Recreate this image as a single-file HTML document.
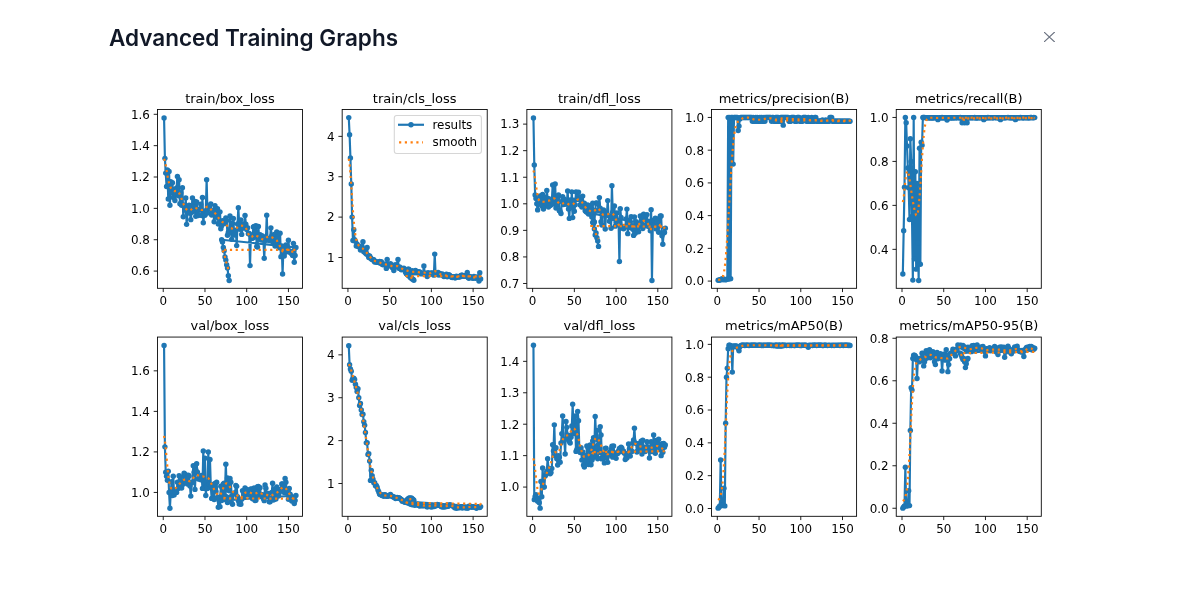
<!DOCTYPE html>
<html lang="en">
<head>
<meta charset="utf-8">
<title>Advanced Training Graphs</title>
<style>
html,body{margin:0;padding:0;background:#fff;}
body{width:1184px;height:606px;position:relative;overflow:hidden;font-family:Inter,"Liberation Sans",sans-serif;}
h2{position:absolute;left:109px;top:22.8px;margin:0;font-size:22.5px;line-height:30px;font-weight:600;color:#111827;letter-spacing:0;white-space:nowrap;}
.close{position:absolute;left:1044.2px;top:32px;width:10.7px;height:10px;overflow:hidden;}
.chart{position:absolute;left:0;top:0;}
.chart text{font-family:"DejaVu Sans","Liberation Sans",sans-serif;fill:#000;}
.ln{fill:none;stroke:#1f77b4;stroke-width:2.17;stroke-linejoin:round;stroke-linecap:square;}
.mk circle{fill:#1f77b4;}
.sm{fill:none;stroke:#ff7f0e;stroke-width:2.17;stroke-dasharray:2.17 3.58;stroke-linejoin:round;}
.fr{fill:none;stroke:#000;stroke-width:0.87;}
.tk{stroke:#000;stroke-width:0.87;}
.xl{font-size:11.92px;text-anchor:middle;}
.yl{font-size:11.92px;text-anchor:end;}
.tt{font-size:13px;text-anchor:middle;}
.lt{font-size:11.92px;}
.lgb{fill:#fff;fill-opacity:0.8;stroke:#ccc;stroke-opacity:0.8;stroke-width:1.08;}
</style>
</head>
<body>
<h2>Advanced Training Graphs</h2>
<svg class="close" viewBox="0 0 10.7 10" fill="none" stroke="#6b7280" stroke-width="1.15"><path d="M-1.07 -1L11.77 11M11.77 -1L-1.07 11"/></svg>
<svg class="chart" width="1184" height="606" viewBox="0 0 1184 606">
<defs>
<clipPath id="c0"><rect x="157.48" y="109.5" width="145.05" height="178.8"/></clipPath>
<clipPath id="c1"><rect x="342.17" y="109.5" width="145.05" height="178.8"/></clipPath>
<clipPath id="c2"><rect x="526.86" y="109.5" width="145.05" height="178.8"/></clipPath>
<clipPath id="c3"><rect x="711.55" y="109.5" width="145.05" height="178.8"/></clipPath>
<clipPath id="c4"><rect x="896.24" y="109.5" width="145.05" height="178.8"/></clipPath>
<clipPath id="c5"><rect x="157.48" y="337.06" width="145.05" height="179.24"/></clipPath>
<clipPath id="c6"><rect x="342.17" y="337.06" width="145.05" height="179.24"/></clipPath>
<clipPath id="c7"><rect x="526.86" y="337.06" width="145.05" height="179.24"/></clipPath>
<clipPath id="c8"><rect x="711.55" y="337.06" width="145.05" height="179.24"/></clipPath>
<clipPath id="c9"><rect x="896.24" y="337.06" width="145.05" height="179.24"/></clipPath>
</defs>
<g class="ax">
<g clip-path="url(#c0)">
<polyline class="ln" points="164.07,118.06 164.91,158.35 165.74,173.09 166.58,186.42 167.41,169.96 168.25,198.96 169.08,171.52 169.92,205.23 170.75,181.72 171.58,192.69 172.42,182.66 173.25,197.39 174.09,189.56 174.92,200.53 175.76,194.26 176.59,187.99 177.43,176.54 178.26,195.83 179.1,179.68 179.93,203.67 180.76,192.69 181.6,205.23 182.43,187.83 183.27,216.68 184.1,205.23 184.94,209.94 185.77,198.02 186.61,224.36 187.44,213.07 188.28,208.37 189.11,205.23 189.95,212.95 190.78,219.66 191.61,212.3 192.45,198.02 193.28,211.51 194.12,202.1 194.95,201.5 195.79,216.37 196.62,201.89 197.46,210.05 198.29,215.42 199.13,210.16 199.96,209.01 200.79,204.19 201.63,215.43 202.46,197.55 203.3,222.79 204.13,214.64 204.97,215.18 205.8,210.72 206.64,179.68 207.47,213.07 208.31,206.08 209.14,207.27 209.98,209.15 210.81,204 211.64,215.08 212.48,212.44 213.31,210.69 214.15,221.82 214.98,205.7 215.82,208.37 216.65,217.35 217.49,208.62 218.32,224.02 219.16,223.43 219.99,211.86 220.82,228.75 221.66,225.73 222.49,220.68 223.33,221.78 224.16,221.47 225,223.43 225.83,217.87 226.67,220.49 227.5,235.18 228.34,232.25 229.17,232.63 230,215.9 230.84,228.75 231.67,239.36 232.51,223.37 233.34,218.4 234.18,235.14 235.01,232.2 235.85,230.31 236.68,245.61 237.52,224.05 238.35,207.74 239.19,224.05 240.02,229.19 240.85,219.87 241.69,234.39 242.52,228.27 243.36,227.39 244.19,224.08 245.03,215.43 245.86,224.15 246.7,229.45 247.53,227.72 248.37,233.79 249.2,233.46 250.03,265.6 250.87,235.02 251.7,238.26 252.54,238.35 253.37,226.94 254.21,226.49 255.04,236.94 255.88,225.59 256.71,246.47 257.55,247.1 258.38,226.4 259.22,239.33 260.05,234.69 260.88,235.7 261.72,240.1 262.55,235.86 263.39,239.79 264.22,258.23 265.06,240.55 265.89,239.94 266.73,215.27 267.56,239.73 268.4,238.55 269.23,240.51 270.06,238.9 270.9,227.87 271.73,236.12 272.57,241.63 273.4,237.97 274.24,234.34 275.07,245.98 275.91,242.38 276.74,232.02 277.58,237.3 278.41,243.93 279.25,247.73 280.08,233.14 280.91,256.64 281.75,246 282.58,274.06 283.42,247.57 284.25,256.12 285.09,252.59 285.92,245 286.76,246.73 287.59,251.47 288.43,240.2 289.26,250.7 290.09,252.58 290.93,251.68 291.76,253.81 292.6,255.6 293.43,243.35 294.27,262.3 295.1,255.41 295.94,247.41 221.66,239.73 222.49,242.08 223.33,247.57 224.16,250.7 225,256.97 225.83,260.11 226.67,264.81 227.5,267.95 228.34,275.79 229.17,280.49"/>
<g class="mk"><circle cx="164.07" cy="118.06" r="2.71"/><circle cx="164.91" cy="158.35" r="2.71"/><circle cx="165.74" cy="173.09" r="2.71"/><circle cx="166.58" cy="186.42" r="2.71"/><circle cx="167.41" cy="169.96" r="2.71"/><circle cx="168.25" cy="198.96" r="2.71"/><circle cx="169.08" cy="171.52" r="2.71"/><circle cx="169.92" cy="205.23" r="2.71"/><circle cx="170.75" cy="181.72" r="2.71"/><circle cx="171.58" cy="192.69" r="2.71"/><circle cx="172.42" cy="182.66" r="2.71"/><circle cx="173.25" cy="197.39" r="2.71"/><circle cx="174.09" cy="189.56" r="2.71"/><circle cx="174.92" cy="200.53" r="2.71"/><circle cx="175.76" cy="194.26" r="2.71"/><circle cx="176.59" cy="187.99" r="2.71"/><circle cx="177.43" cy="176.54" r="2.71"/><circle cx="178.26" cy="195.83" r="2.71"/><circle cx="179.1" cy="179.68" r="2.71"/><circle cx="179.93" cy="203.67" r="2.71"/><circle cx="180.76" cy="192.69" r="2.71"/><circle cx="181.6" cy="205.23" r="2.71"/><circle cx="182.43" cy="187.83" r="2.71"/><circle cx="183.27" cy="216.68" r="2.71"/><circle cx="184.1" cy="205.23" r="2.71"/><circle cx="184.94" cy="209.94" r="2.71"/><circle cx="185.77" cy="198.02" r="2.71"/><circle cx="186.61" cy="224.36" r="2.71"/><circle cx="187.44" cy="213.07" r="2.71"/><circle cx="188.28" cy="208.37" r="2.71"/><circle cx="189.11" cy="205.23" r="2.71"/><circle cx="189.95" cy="212.95" r="2.71"/><circle cx="190.78" cy="219.66" r="2.71"/><circle cx="191.61" cy="212.3" r="2.71"/><circle cx="192.45" cy="198.02" r="2.71"/><circle cx="193.28" cy="211.51" r="2.71"/><circle cx="194.12" cy="202.1" r="2.71"/><circle cx="194.95" cy="201.5" r="2.71"/><circle cx="195.79" cy="216.37" r="2.71"/><circle cx="196.62" cy="201.89" r="2.71"/><circle cx="197.46" cy="210.05" r="2.71"/><circle cx="198.29" cy="215.42" r="2.71"/><circle cx="199.13" cy="210.16" r="2.71"/><circle cx="199.96" cy="209.01" r="2.71"/><circle cx="200.79" cy="204.19" r="2.71"/><circle cx="201.63" cy="215.43" r="2.71"/><circle cx="202.46" cy="197.55" r="2.71"/><circle cx="203.3" cy="222.79" r="2.71"/><circle cx="204.13" cy="214.64" r="2.71"/><circle cx="204.97" cy="215.18" r="2.71"/><circle cx="205.8" cy="210.72" r="2.71"/><circle cx="206.64" cy="179.68" r="2.71"/><circle cx="207.47" cy="213.07" r="2.71"/><circle cx="208.31" cy="206.08" r="2.71"/><circle cx="209.14" cy="207.27" r="2.71"/><circle cx="209.98" cy="209.15" r="2.71"/><circle cx="210.81" cy="204" r="2.71"/><circle cx="211.64" cy="215.08" r="2.71"/><circle cx="212.48" cy="212.44" r="2.71"/><circle cx="213.31" cy="210.69" r="2.71"/><circle cx="214.15" cy="221.82" r="2.71"/><circle cx="214.98" cy="205.7" r="2.71"/><circle cx="215.82" cy="208.37" r="2.71"/><circle cx="216.65" cy="217.35" r="2.71"/><circle cx="217.49" cy="208.62" r="2.71"/><circle cx="218.32" cy="224.02" r="2.71"/><circle cx="219.16" cy="223.43" r="2.71"/><circle cx="219.99" cy="211.86" r="2.71"/><circle cx="220.82" cy="228.75" r="2.71"/><circle cx="221.66" cy="225.73" r="2.71"/><circle cx="222.49" cy="220.68" r="2.71"/><circle cx="223.33" cy="221.78" r="2.71"/><circle cx="224.16" cy="221.47" r="2.71"/><circle cx="225" cy="223.43" r="2.71"/><circle cx="225.83" cy="217.87" r="2.71"/><circle cx="226.67" cy="220.49" r="2.71"/><circle cx="227.5" cy="235.18" r="2.71"/><circle cx="228.34" cy="232.25" r="2.71"/><circle cx="229.17" cy="232.63" r="2.71"/><circle cx="230" cy="215.9" r="2.71"/><circle cx="230.84" cy="228.75" r="2.71"/><circle cx="231.67" cy="239.36" r="2.71"/><circle cx="232.51" cy="223.37" r="2.71"/><circle cx="233.34" cy="218.4" r="2.71"/><circle cx="234.18" cy="235.14" r="2.71"/><circle cx="235.01" cy="232.2" r="2.71"/><circle cx="235.85" cy="230.31" r="2.71"/><circle cx="236.68" cy="245.61" r="2.71"/><circle cx="237.52" cy="224.05" r="2.71"/><circle cx="238.35" cy="207.74" r="2.71"/><circle cx="239.19" cy="224.05" r="2.71"/><circle cx="240.02" cy="229.19" r="2.71"/><circle cx="240.85" cy="219.87" r="2.71"/><circle cx="241.69" cy="234.39" r="2.71"/><circle cx="242.52" cy="228.27" r="2.71"/><circle cx="243.36" cy="227.39" r="2.71"/><circle cx="244.19" cy="224.08" r="2.71"/><circle cx="245.03" cy="215.43" r="2.71"/><circle cx="245.86" cy="224.15" r="2.71"/><circle cx="246.7" cy="229.45" r="2.71"/><circle cx="247.53" cy="227.72" r="2.71"/><circle cx="248.37" cy="233.79" r="2.71"/><circle cx="249.2" cy="233.46" r="2.71"/><circle cx="250.03" cy="265.6" r="2.71"/><circle cx="250.87" cy="235.02" r="2.71"/><circle cx="251.7" cy="238.26" r="2.71"/><circle cx="252.54" cy="238.35" r="2.71"/><circle cx="253.37" cy="226.94" r="2.71"/><circle cx="254.21" cy="226.49" r="2.71"/><circle cx="255.04" cy="236.94" r="2.71"/><circle cx="255.88" cy="225.59" r="2.71"/><circle cx="256.71" cy="246.47" r="2.71"/><circle cx="257.55" cy="247.1" r="2.71"/><circle cx="258.38" cy="226.4" r="2.71"/><circle cx="259.22" cy="239.33" r="2.71"/><circle cx="260.05" cy="234.69" r="2.71"/><circle cx="260.88" cy="235.7" r="2.71"/><circle cx="261.72" cy="240.1" r="2.71"/><circle cx="262.55" cy="235.86" r="2.71"/><circle cx="263.39" cy="239.79" r="2.71"/><circle cx="264.22" cy="258.23" r="2.71"/><circle cx="265.06" cy="240.55" r="2.71"/><circle cx="265.89" cy="239.94" r="2.71"/><circle cx="266.73" cy="215.27" r="2.71"/><circle cx="267.56" cy="239.73" r="2.71"/><circle cx="268.4" cy="238.55" r="2.71"/><circle cx="269.23" cy="240.51" r="2.71"/><circle cx="270.06" cy="238.9" r="2.71"/><circle cx="270.9" cy="227.87" r="2.71"/><circle cx="271.73" cy="236.12" r="2.71"/><circle cx="272.57" cy="241.63" r="2.71"/><circle cx="273.4" cy="237.97" r="2.71"/><circle cx="274.24" cy="234.34" r="2.71"/><circle cx="275.07" cy="245.98" r="2.71"/><circle cx="275.91" cy="242.38" r="2.71"/><circle cx="276.74" cy="232.02" r="2.71"/><circle cx="277.58" cy="237.3" r="2.71"/><circle cx="278.41" cy="243.93" r="2.71"/><circle cx="279.25" cy="247.73" r="2.71"/><circle cx="280.08" cy="233.14" r="2.71"/><circle cx="280.91" cy="256.64" r="2.71"/><circle cx="281.75" cy="246" r="2.71"/><circle cx="282.58" cy="274.06" r="2.71"/><circle cx="283.42" cy="247.57" r="2.71"/><circle cx="284.25" cy="256.12" r="2.71"/><circle cx="285.09" cy="252.59" r="2.71"/><circle cx="285.92" cy="245" r="2.71"/><circle cx="286.76" cy="246.73" r="2.71"/><circle cx="287.59" cy="251.47" r="2.71"/><circle cx="288.43" cy="240.2" r="2.71"/><circle cx="289.26" cy="250.7" r="2.71"/><circle cx="290.09" cy="252.58" r="2.71"/><circle cx="290.93" cy="251.68" r="2.71"/><circle cx="291.76" cy="253.81" r="2.71"/><circle cx="292.6" cy="255.6" r="2.71"/><circle cx="293.43" cy="243.35" r="2.71"/><circle cx="294.27" cy="262.3" r="2.71"/><circle cx="295.1" cy="255.41" r="2.71"/><circle cx="295.94" cy="247.41" r="2.71"/><circle cx="221.66" cy="239.73" r="2.71"/><circle cx="222.49" cy="242.08" r="2.71"/><circle cx="223.33" cy="247.57" r="2.71"/><circle cx="224.16" cy="250.7" r="2.71"/><circle cx="225" cy="256.97" r="2.71"/><circle cx="225.83" cy="260.11" r="2.71"/><circle cx="226.67" cy="264.81" r="2.71"/><circle cx="227.5" cy="267.95" r="2.71"/><circle cx="228.34" cy="275.79" r="2.71"/><circle cx="229.17" cy="280.49" r="2.71"/></g>
<polyline class="sm" points="164.07,158.74 164.91,161.11 165.74,165.28 166.58,170.36 167.41,175.43 168.25,179.87 169.08,183.39 169.92,186 170.75,187.87 171.58,189.2 172.42,190.13 173.25,190.75 174.09,191.05 174.92,191.08 175.76,190.94 176.59,190.85 177.43,191.04 178.26,191.7 179.1,192.92 179.93,194.64 180.76,196.72 181.6,198.99 182.43,201.27 183.27,203.45 184.1,205.43 184.94,207.14 185.77,208.52 186.61,209.56 187.44,210.25 188.28,210.6 189.11,210.64 189.95,210.39 190.78,209.9 191.61,209.25 192.45,208.57 193.28,208.02 194.12,207.72 194.95,207.72 195.79,207.98 196.62,208.39 197.46,208.83 198.29,209.2 199.13,209.48 199.96,209.69 200.79,209.87 201.63,210 202.46,210.02 203.3,209.8 204.13,209.28 204.97,208.5 205.8,207.64 206.64,206.95 207.47,206.64 208.31,206.81 209.14,207.39 209.98,208.26 210.81,209.25 211.64,210.23 212.48,211.1 213.31,211.83 214.15,212.49 214.98,213.16 215.82,213.97 216.65,214.99 217.49,216.21 218.32,217.54 219.16,218.86 219.99,220.02 220.82,220.95 221.66,221.63 222.49,222.1 223.33,222.49 224.16,222.94 225,223.55 225.83,224.34 226.67,225.26 227.5,226.16 228.34,226.93 229.17,227.49 230,227.87 230.84,228.14 231.67,228.38 232.51,228.66 233.34,228.96 234.18,229.16 235.01,229.13 235.85,228.77 236.68,228.08 237.52,227.21 238.35,226.4 239.19,225.84 240.02,225.59 240.85,225.58 241.69,225.67 242.52,225.74 243.36,225.82 244.19,226.08 245.03,226.72 245.86,227.91 246.7,229.64 247.53,231.77 248.37,233.94 249.2,235.76 250.03,236.91 250.87,237.27 251.7,236.93 252.54,236.21 253.37,235.48 254.21,235.04 255.04,235.01 255.88,235.33 256.71,235.82 257.55,236.32 258.38,236.76 259.22,237.17 260.05,237.63 260.88,238.18 261.72,238.8 262.55,239.32 263.39,239.56 264.22,239.4 265.06,238.87 265.89,238.1 266.73,237.34 267.56,236.77 268.4,236.47 269.23,236.41 270.06,236.54 270.9,236.8 271.73,237.17 272.57,237.62 273.4,238.12 274.24,238.63 275.07,239.16 275.91,239.75 276.74,240.53 277.58,241.58 278.41,242.99 279.25,244.74 280.08,246.7 280.91,248.64 281.75,250.29 282.58,251.41 283.42,251.87 284.25,251.71 285.09,251.13 285.92,250.4 286.76,249.79 287.59,249.47 288.43,249.52 289.26,249.88 290.09,250.42 290.93,250.99 291.76,251.42 292.6,251.6 293.43,251.45 294.27,251.02 295.1,250.44 295.94,249.96 221.66,249.89 222.49,250.51 223.33,251.98 224.16,254.28 225,257.25 225.83,260.6 226.67,263.96 227.5,266.95 228.34,269.2 229.17,270.42"/>
</g>
<rect class="fr" x="157.48" y="109.5" width="145.05" height="178.8"/>
<line class="tk" x1="163.24" y1="288.3" x2="163.24" y2="292.09"/>
<text class="xl" x="163.24" y="304.65">0</text>
<line class="tk" x1="204.97" y1="288.3" x2="204.97" y2="292.09"/>
<text class="xl" x="204.97" y="304.65">50</text>
<line class="tk" x1="246.7" y1="288.3" x2="246.7" y2="292.09"/>
<text class="xl" x="246.7" y="304.65">100</text>
<line class="tk" x1="288.43" y1="288.3" x2="288.43" y2="292.09"/>
<text class="xl" x="288.43" y="304.65">150</text>
<line class="tk" x1="153.69" y1="271.08" x2="157.48" y2="271.08"/>
<text class="yl" x="149.89" y="275.44">0.6</text>
<line class="tk" x1="153.69" y1="239.73" x2="157.48" y2="239.73"/>
<text class="yl" x="149.89" y="244.08">0.8</text>
<line class="tk" x1="153.69" y1="208.37" x2="157.48" y2="208.37"/>
<text class="yl" x="149.89" y="212.72">1.0</text>
<line class="tk" x1="153.69" y1="177.01" x2="157.48" y2="177.01"/>
<text class="yl" x="149.89" y="181.36">1.2</text>
<line class="tk" x1="153.69" y1="145.66" x2="157.48" y2="145.66"/>
<text class="yl" x="149.89" y="150.01">1.4</text>
<line class="tk" x1="153.69" y1="114.3" x2="157.48" y2="114.3"/>
<text class="yl" x="149.89" y="118.65">1.6</text>
<text class="tt" x="230" y="102.8">train/box_loss</text>
</g>
<g class="ax">
<g clip-path="url(#c1)">
<polyline class="ln" points="348.76,117.62 349.6,134.75 350.43,158 351.27,184.01 352.1,217.12 352.94,240.54 353.77,229.64 354.61,239.73 355.44,241.35 356.27,245.99 357.11,244.17 357.94,246.01 358.78,246.79 359.61,246.18 360.45,250.03 361.28,248.81 362.12,247.1 362.95,241.75 363.79,251.79 364.62,250.13 365.45,253.04 366.29,253.84 367.12,247.4 367.96,255.32 368.79,257.5 369.63,256.01 370.46,257.83 371.3,259.02 372.13,259.26 372.97,260.07 373.8,259.66 374.64,262.06 375.47,261.58 376.3,261.98 377.14,262.2 377.97,262.12 378.81,262.46 379.64,261.37 380.48,263.37 381.31,261.66 382.15,264.2 382.98,264.7 383.82,264.28 384.65,264.25 385.48,264.64 386.32,268.4 387.15,259.52 387.99,264.64 388.82,265.74 389.66,265.54 390.49,263.8 391.33,265.37 392.16,267.43 393,266.89 393.83,270.42 394.67,265.07 395.5,266.81 396.33,264.82 397.17,266.36 398,259.52 398.84,268.33 399.67,266.97 400.51,268.74 401.34,269.75 402.18,268.43 403.01,269.37 403.85,268.3 404.68,270.04 405.51,272.18 406.35,269.64 407.18,272.73 408.02,269.23 408.85,269.18 409.69,271.65 410.52,272.57 411.36,272.93 412.19,270.6 413.03,271.87 413.86,272.45 414.69,272.28 415.53,270.47 416.36,272.09 417.2,271.9 418.03,272.08 418.87,272.06 419.7,271.99 420.54,273.72 421.37,273.19 422.21,273.68 423.04,273.59 423.88,265.98 424.71,273.38 425.54,273.12 426.38,273.84 427.21,276.48 428.05,272.76 428.88,274.03 429.72,274.21 430.55,273.31 431.39,273.29 432.22,273.01 433.06,273.54 433.89,275.14 434.72,254.11 435.56,273.3 436.39,272.93 437.23,274.56 438.06,272.52 438.9,274.99 439.73,273.47 440.57,274.22 441.4,274.86 442.24,274.02 443.07,275.11 443.91,276.45 444.74,276.23 445.57,275.14 446.41,274.25 447.24,276.86 448.08,275.79 448.91,274.71 449.75,275.47 450.58,276.33 451.42,277.24 452.25,277.54 453.09,276.88 453.92,276.68 454.75,277.8 455.59,277.79 456.42,276.24 457.26,276.79 458.09,277.06 458.93,276.79 459.76,277.1 460.6,275.77 461.43,275.22 462.27,275.24 463.1,276.06 463.94,276.09 464.77,275.62 465.6,275.5 466.44,275.74 467.27,272.44 468.11,277.45 468.94,278.23 469.78,276.44 470.61,277.23 471.45,277.26 472.28,277.94 473.12,278.31 473.95,276.37 474.78,277.09 475.62,278.25 476.45,277.21 477.29,277.31 478.12,277.18 478.96,280.92 479.79,272.68 480.63,278.9 406.35,273.65 407.18,274.46 408.02,275.27 408.85,275.87 409.69,276.48 410.52,277.69 411.36,277.69 412.19,278.9 413.03,279.3 413.86,280.27"/>
<g class="mk"><circle cx="348.76" cy="117.62" r="2.71"/><circle cx="349.6" cy="134.75" r="2.71"/><circle cx="350.43" cy="158" r="2.71"/><circle cx="351.27" cy="184.01" r="2.71"/><circle cx="352.1" cy="217.12" r="2.71"/><circle cx="352.94" cy="240.54" r="2.71"/><circle cx="353.77" cy="229.64" r="2.71"/><circle cx="354.61" cy="239.73" r="2.71"/><circle cx="355.44" cy="241.35" r="2.71"/><circle cx="356.27" cy="245.99" r="2.71"/><circle cx="357.11" cy="244.17" r="2.71"/><circle cx="357.94" cy="246.01" r="2.71"/><circle cx="358.78" cy="246.79" r="2.71"/><circle cx="359.61" cy="246.18" r="2.71"/><circle cx="360.45" cy="250.03" r="2.71"/><circle cx="361.28" cy="248.81" r="2.71"/><circle cx="362.12" cy="247.1" r="2.71"/><circle cx="362.95" cy="241.75" r="2.71"/><circle cx="363.79" cy="251.79" r="2.71"/><circle cx="364.62" cy="250.13" r="2.71"/><circle cx="365.45" cy="253.04" r="2.71"/><circle cx="366.29" cy="253.84" r="2.71"/><circle cx="367.12" cy="247.4" r="2.71"/><circle cx="367.96" cy="255.32" r="2.71"/><circle cx="368.79" cy="257.5" r="2.71"/><circle cx="369.63" cy="256.01" r="2.71"/><circle cx="370.46" cy="257.83" r="2.71"/><circle cx="371.3" cy="259.02" r="2.71"/><circle cx="372.13" cy="259.26" r="2.71"/><circle cx="372.97" cy="260.07" r="2.71"/><circle cx="373.8" cy="259.66" r="2.71"/><circle cx="374.64" cy="262.06" r="2.71"/><circle cx="375.47" cy="261.58" r="2.71"/><circle cx="376.3" cy="261.98" r="2.71"/><circle cx="377.14" cy="262.2" r="2.71"/><circle cx="377.97" cy="262.12" r="2.71"/><circle cx="378.81" cy="262.46" r="2.71"/><circle cx="379.64" cy="261.37" r="2.71"/><circle cx="380.48" cy="263.37" r="2.71"/><circle cx="381.31" cy="261.66" r="2.71"/><circle cx="382.15" cy="264.2" r="2.71"/><circle cx="382.98" cy="264.7" r="2.71"/><circle cx="383.82" cy="264.28" r="2.71"/><circle cx="384.65" cy="264.25" r="2.71"/><circle cx="385.48" cy="264.64" r="2.71"/><circle cx="386.32" cy="268.4" r="2.71"/><circle cx="387.15" cy="259.52" r="2.71"/><circle cx="387.99" cy="264.64" r="2.71"/><circle cx="388.82" cy="265.74" r="2.71"/><circle cx="389.66" cy="265.54" r="2.71"/><circle cx="390.49" cy="263.8" r="2.71"/><circle cx="391.33" cy="265.37" r="2.71"/><circle cx="392.16" cy="267.43" r="2.71"/><circle cx="393" cy="266.89" r="2.71"/><circle cx="393.83" cy="270.42" r="2.71"/><circle cx="394.67" cy="265.07" r="2.71"/><circle cx="395.5" cy="266.81" r="2.71"/><circle cx="396.33" cy="264.82" r="2.71"/><circle cx="397.17" cy="266.36" r="2.71"/><circle cx="398" cy="259.52" r="2.71"/><circle cx="398.84" cy="268.33" r="2.71"/><circle cx="399.67" cy="266.97" r="2.71"/><circle cx="400.51" cy="268.74" r="2.71"/><circle cx="401.34" cy="269.75" r="2.71"/><circle cx="402.18" cy="268.43" r="2.71"/><circle cx="403.01" cy="269.37" r="2.71"/><circle cx="403.85" cy="268.3" r="2.71"/><circle cx="404.68" cy="270.04" r="2.71"/><circle cx="405.51" cy="272.18" r="2.71"/><circle cx="406.35" cy="269.64" r="2.71"/><circle cx="407.18" cy="272.73" r="2.71"/><circle cx="408.02" cy="269.23" r="2.71"/><circle cx="408.85" cy="269.18" r="2.71"/><circle cx="409.69" cy="271.65" r="2.71"/><circle cx="410.52" cy="272.57" r="2.71"/><circle cx="411.36" cy="272.93" r="2.71"/><circle cx="412.19" cy="270.6" r="2.71"/><circle cx="413.03" cy="271.87" r="2.71"/><circle cx="413.86" cy="272.45" r="2.71"/><circle cx="414.69" cy="272.28" r="2.71"/><circle cx="415.53" cy="270.47" r="2.71"/><circle cx="416.36" cy="272.09" r="2.71"/><circle cx="417.2" cy="271.9" r="2.71"/><circle cx="418.03" cy="272.08" r="2.71"/><circle cx="418.87" cy="272.06" r="2.71"/><circle cx="419.7" cy="271.99" r="2.71"/><circle cx="420.54" cy="273.72" r="2.71"/><circle cx="421.37" cy="273.19" r="2.71"/><circle cx="422.21" cy="273.68" r="2.71"/><circle cx="423.04" cy="273.59" r="2.71"/><circle cx="423.88" cy="265.98" r="2.71"/><circle cx="424.71" cy="273.38" r="2.71"/><circle cx="425.54" cy="273.12" r="2.71"/><circle cx="426.38" cy="273.84" r="2.71"/><circle cx="427.21" cy="276.48" r="2.71"/><circle cx="428.05" cy="272.76" r="2.71"/><circle cx="428.88" cy="274.03" r="2.71"/><circle cx="429.72" cy="274.21" r="2.71"/><circle cx="430.55" cy="273.31" r="2.71"/><circle cx="431.39" cy="273.29" r="2.71"/><circle cx="432.22" cy="273.01" r="2.71"/><circle cx="433.06" cy="273.54" r="2.71"/><circle cx="433.89" cy="275.14" r="2.71"/><circle cx="434.72" cy="254.11" r="2.71"/><circle cx="435.56" cy="273.3" r="2.71"/><circle cx="436.39" cy="272.93" r="2.71"/><circle cx="437.23" cy="274.56" r="2.71"/><circle cx="438.06" cy="272.52" r="2.71"/><circle cx="438.9" cy="274.99" r="2.71"/><circle cx="439.73" cy="273.47" r="2.71"/><circle cx="440.57" cy="274.22" r="2.71"/><circle cx="441.4" cy="274.86" r="2.71"/><circle cx="442.24" cy="274.02" r="2.71"/><circle cx="443.07" cy="275.11" r="2.71"/><circle cx="443.91" cy="276.45" r="2.71"/><circle cx="444.74" cy="276.23" r="2.71"/><circle cx="445.57" cy="275.14" r="2.71"/><circle cx="446.41" cy="274.25" r="2.71"/><circle cx="447.24" cy="276.86" r="2.71"/><circle cx="448.08" cy="275.79" r="2.71"/><circle cx="448.91" cy="274.71" r="2.71"/><circle cx="449.75" cy="275.47" r="2.71"/><circle cx="450.58" cy="276.33" r="2.71"/><circle cx="451.42" cy="277.24" r="2.71"/><circle cx="452.25" cy="277.54" r="2.71"/><circle cx="453.09" cy="276.88" r="2.71"/><circle cx="453.92" cy="276.68" r="2.71"/><circle cx="454.75" cy="277.8" r="2.71"/><circle cx="455.59" cy="277.79" r="2.71"/><circle cx="456.42" cy="276.24" r="2.71"/><circle cx="457.26" cy="276.79" r="2.71"/><circle cx="458.09" cy="277.06" r="2.71"/><circle cx="458.93" cy="276.79" r="2.71"/><circle cx="459.76" cy="277.1" r="2.71"/><circle cx="460.6" cy="275.77" r="2.71"/><circle cx="461.43" cy="275.22" r="2.71"/><circle cx="462.27" cy="275.24" r="2.71"/><circle cx="463.1" cy="276.06" r="2.71"/><circle cx="463.94" cy="276.09" r="2.71"/><circle cx="464.77" cy="275.62" r="2.71"/><circle cx="465.6" cy="275.5" r="2.71"/><circle cx="466.44" cy="275.74" r="2.71"/><circle cx="467.27" cy="272.44" r="2.71"/><circle cx="468.11" cy="277.45" r="2.71"/><circle cx="468.94" cy="278.23" r="2.71"/><circle cx="469.78" cy="276.44" r="2.71"/><circle cx="470.61" cy="277.23" r="2.71"/><circle cx="471.45" cy="277.26" r="2.71"/><circle cx="472.28" cy="277.94" r="2.71"/><circle cx="473.12" cy="278.31" r="2.71"/><circle cx="473.95" cy="276.37" r="2.71"/><circle cx="474.78" cy="277.09" r="2.71"/><circle cx="475.62" cy="278.25" r="2.71"/><circle cx="476.45" cy="277.21" r="2.71"/><circle cx="477.29" cy="277.31" r="2.71"/><circle cx="478.12" cy="277.18" r="2.71"/><circle cx="478.96" cy="280.92" r="2.71"/><circle cx="479.79" cy="272.68" r="2.71"/><circle cx="480.63" cy="278.9" r="2.71"/><circle cx="406.35" cy="273.65" r="2.71"/><circle cx="407.18" cy="274.46" r="2.71"/><circle cx="408.02" cy="275.27" r="2.71"/><circle cx="408.85" cy="275.87" r="2.71"/><circle cx="409.69" cy="276.48" r="2.71"/><circle cx="410.52" cy="277.69" r="2.71"/><circle cx="411.36" cy="277.69" r="2.71"/><circle cx="412.19" cy="278.9" r="2.71"/><circle cx="413.03" cy="279.3" r="2.71"/><circle cx="413.86" cy="280.27" r="2.71"/></g>
<polyline class="sm" points="348.76,158.72 349.6,163.91 350.43,173.35 351.27,185.48 352.1,198.47 352.94,210.73 353.77,221.19 354.61,229.4 355.44,235.42 356.27,239.62 357.11,242.46 357.94,244.35 358.78,245.62 359.61,246.48 360.45,247.11 361.28,247.63 362.12,248.15 362.95,248.75 363.79,249.46 364.62,250.29 365.45,251.21 366.29,252.2 367.12,253.22 367.96,254.27 368.79,255.32 369.63,256.34 370.46,257.3 371.3,258.18 372.13,258.96 372.97,259.66 373.8,260.26 374.64,260.77 375.47,261.2 376.3,261.55 377.14,261.84 377.97,262.09 378.81,262.33 379.64,262.58 380.48,262.86 381.31,263.17 382.15,263.49 382.98,263.8 383.82,264.06 384.65,264.26 385.48,264.4 386.32,264.5 387.15,264.6 387.99,264.74 388.82,264.94 389.66,265.22 390.49,265.54 391.33,265.87 392.16,266.15 393,266.33 393.83,266.37 394.67,266.3 395.5,266.17 396.33,266.06 397.17,266.07 398,266.25 398.84,266.61 399.67,267.1 400.51,267.65 401.34,268.2 402.18,268.7 403.01,269.15 403.85,269.54 404.68,269.88 405.51,270.17 406.35,270.41 407.18,270.62 408.02,270.82 408.85,271.01 409.69,271.21 410.52,271.4 411.36,271.56 412.19,271.68 413.03,271.75 413.86,271.8 414.69,271.83 415.53,271.87 416.36,271.94 417.2,272.03 418.03,272.15 418.87,272.28 419.7,272.38 420.54,272.44 421.37,272.46 422.21,272.45 423.04,272.46 423.88,272.54 424.71,272.72 425.54,272.97 426.38,273.23 427.21,273.45 428.05,273.57 428.88,273.55 429.72,273.38 430.55,273.06 431.39,272.62 432.22,272.1 433.06,271.6 433.89,271.23 434.72,271.1 435.56,271.26 436.39,271.66 437.23,272.22 438.06,272.82 438.9,273.37 439.73,273.83 440.57,274.21 441.4,274.52 442.24,274.79 443.07,275.02 443.91,275.21 444.74,275.36 445.57,275.47 446.41,275.56 447.24,275.65 448.08,275.77 448.91,275.92 449.75,276.11 450.58,276.33 451.42,276.54 452.25,276.74 453.09,276.88 453.92,276.98 454.75,277.01 455.59,277 456.42,276.93 457.26,276.83 458.09,276.7 458.93,276.53 459.76,276.36 460.6,276.18 461.43,276.02 462.27,275.88 463.1,275.78 463.94,275.71 464.77,275.69 465.6,275.73 466.44,275.84 467.27,276.02 468.11,276.26 468.94,276.54 469.78,276.8 470.61,277.03 471.45,277.2 472.28,277.31 473.12,277.38 473.95,277.42 474.78,277.43 475.62,277.42 476.45,277.36 477.29,277.26 478.12,277.08 478.96,276.84 479.79,276.57 480.63,276.31 406.35,276.13 407.18,276.08 408.02,276.19 408.85,276.47 409.69,276.87 410.52,277.35 411.36,277.84 412.19,278.28 413.03,278.61 413.86,278.79"/>
</g>
<rect class="fr" x="342.17" y="109.5" width="145.05" height="178.8"/>
<line class="tk" x1="347.93" y1="288.3" x2="347.93" y2="292.09"/>
<text class="xl" x="347.93" y="304.65">0</text>
<line class="tk" x1="389.66" y1="288.3" x2="389.66" y2="292.09"/>
<text class="xl" x="389.66" y="304.65">50</text>
<line class="tk" x1="431.39" y1="288.3" x2="431.39" y2="292.09"/>
<text class="xl" x="431.39" y="304.65">100</text>
<line class="tk" x1="473.12" y1="288.3" x2="473.12" y2="292.09"/>
<text class="xl" x="473.12" y="304.65">150</text>
<line class="tk" x1="338.38" y1="257.5" x2="342.17" y2="257.5"/>
<text class="yl" x="334.58" y="261.85">1</text>
<line class="tk" x1="338.38" y1="217.12" x2="342.17" y2="217.12"/>
<text class="yl" x="334.58" y="221.47">2</text>
<line class="tk" x1="338.38" y1="176.74" x2="342.17" y2="176.74"/>
<text class="yl" x="334.58" y="181.09">3</text>
<line class="tk" x1="338.38" y1="136.36" x2="342.17" y2="136.36"/>
<text class="yl" x="334.58" y="140.71">4</text>
<text class="tt" x="414.69" y="102.8">train/cls_loss</text>
</g>
<g class="ax">
<g clip-path="url(#c2)">
<polyline class="ln" points="533.45,118 534.29,165.02 535.12,195.03 535.96,198.49 536.79,203.8 537.63,209.91 538.46,203.37 539.3,203.84 540.13,195.88 540.96,202.55 541.8,206.06 542.63,194.44 543.47,209.11 544.3,205.92 545.14,197.36 545.97,203.53 546.81,190.52 547.64,198.44 548.48,206.97 549.31,198.97 550.14,205.38 550.98,204.78 551.81,201.51 552.65,185.02 553.48,203.8 554.32,197.85 555.15,184.06 555.99,208.05 556.82,204.07 557.66,198 558.49,194.88 559.33,210.71 560.16,211.31 560.99,213.43 561.83,201.42 562.66,196.78 563.5,204.47 564.33,199.12 565.17,203.61 566,204.09 566.84,204.02 567.67,191.05 568.51,208.93 569.34,218.41 570.17,199.87 571.01,207.9 571.84,191.85 572.68,217.61 573.51,200.17 574.35,211.24 575.18,204.77 576.02,191.85 576.85,199.39 577.69,199.23 578.52,192.11 579.36,199.23 580.19,205.04 581.02,197.07 581.86,206.98 582.69,196.11 583.53,204.32 584.36,203.19 585.2,210.67 586.03,211.57 586.87,212.27 587.7,204.89 588.54,214.08 589.37,212.86 590.2,206.08 591.04,210.62 591.87,215 592.71,203.27 593.54,221.44 594.38,221.92 595.21,210.43 596.05,202.9 596.88,203.21 597.72,203.52 598.55,210.43 599.38,197.59 600.22,208.14 601.05,221.67 601.89,225.06 602.72,213.07 603.56,209.94 604.39,212.29 605.23,229.04 606.06,212.58 606.9,214.38 607.73,200.61 608.57,215.84 609.4,221.33 610.23,216.58 611.07,228.24 611.9,185.74 612.74,212.23 613.57,218.48 614.41,205.93 615.24,226.13 616.08,222.5 616.91,212.88 617.75,224.13 618.58,222.4 619.41,261.44 620.25,208.66 621.08,217.56 621.92,226.71 622.75,228.24 623.59,228.71 624.42,226.78 625.26,227.03 626.09,219.06 626.93,209.11 627.76,233.66 628.6,220.81 629.43,227.43 630.26,224.85 631.1,216.82 631.93,226.13 632.77,229.15 633.6,235.41 634.44,216.93 635.27,233.33 636.11,221.69 636.94,228.18 637.78,227.65 638.61,231.69 639.44,223.33 640.28,216.02 641.11,216.45 641.95,225.69 642.78,228.49 643.62,214.16 644.45,216.88 645.29,219.76 646.12,225.72 646.96,214.59 647.79,223.34 648.63,226.42 649.46,221.48 650.29,230.74 651.13,209.65 651.96,280.57 652.8,225.05 653.63,220.29 654.47,224.89 655.3,218.23 656.14,228.89 656.97,221.9 657.81,226.05 658.64,232.33 659.47,218.15 660.31,215.89 661.14,215.99 661.98,235.68 662.81,244.18 663.65,233.02 664.48,232.51 665.32,228.24 591.04,213.1 591.87,217.08 592.71,222.4 593.54,223.72 594.38,229.04 595.21,235.01 596.05,233.02 596.88,237.8 597.72,240.99 598.55,246.41"/>
<g class="mk"><circle cx="533.45" cy="118" r="2.71"/><circle cx="534.29" cy="165.02" r="2.71"/><circle cx="535.12" cy="195.03" r="2.71"/><circle cx="535.96" cy="198.49" r="2.71"/><circle cx="536.79" cy="203.8" r="2.71"/><circle cx="537.63" cy="209.91" r="2.71"/><circle cx="538.46" cy="203.37" r="2.71"/><circle cx="539.3" cy="203.84" r="2.71"/><circle cx="540.13" cy="195.88" r="2.71"/><circle cx="540.96" cy="202.55" r="2.71"/><circle cx="541.8" cy="206.06" r="2.71"/><circle cx="542.63" cy="194.44" r="2.71"/><circle cx="543.47" cy="209.11" r="2.71"/><circle cx="544.3" cy="205.92" r="2.71"/><circle cx="545.14" cy="197.36" r="2.71"/><circle cx="545.97" cy="203.53" r="2.71"/><circle cx="546.81" cy="190.52" r="2.71"/><circle cx="547.64" cy="198.44" r="2.71"/><circle cx="548.48" cy="206.97" r="2.71"/><circle cx="549.31" cy="198.97" r="2.71"/><circle cx="550.14" cy="205.38" r="2.71"/><circle cx="550.98" cy="204.78" r="2.71"/><circle cx="551.81" cy="201.51" r="2.71"/><circle cx="552.65" cy="185.02" r="2.71"/><circle cx="553.48" cy="203.8" r="2.71"/><circle cx="554.32" cy="197.85" r="2.71"/><circle cx="555.15" cy="184.06" r="2.71"/><circle cx="555.99" cy="208.05" r="2.71"/><circle cx="556.82" cy="204.07" r="2.71"/><circle cx="557.66" cy="198" r="2.71"/><circle cx="558.49" cy="194.88" r="2.71"/><circle cx="559.33" cy="210.71" r="2.71"/><circle cx="560.16" cy="211.31" r="2.71"/><circle cx="560.99" cy="213.43" r="2.71"/><circle cx="561.83" cy="201.42" r="2.71"/><circle cx="562.66" cy="196.78" r="2.71"/><circle cx="563.5" cy="204.47" r="2.71"/><circle cx="564.33" cy="199.12" r="2.71"/><circle cx="565.17" cy="203.61" r="2.71"/><circle cx="566" cy="204.09" r="2.71"/><circle cx="566.84" cy="204.02" r="2.71"/><circle cx="567.67" cy="191.05" r="2.71"/><circle cx="568.51" cy="208.93" r="2.71"/><circle cx="569.34" cy="218.41" r="2.71"/><circle cx="570.17" cy="199.87" r="2.71"/><circle cx="571.01" cy="207.9" r="2.71"/><circle cx="571.84" cy="191.85" r="2.71"/><circle cx="572.68" cy="217.61" r="2.71"/><circle cx="573.51" cy="200.17" r="2.71"/><circle cx="574.35" cy="211.24" r="2.71"/><circle cx="575.18" cy="204.77" r="2.71"/><circle cx="576.02" cy="191.85" r="2.71"/><circle cx="576.85" cy="199.39" r="2.71"/><circle cx="577.69" cy="199.23" r="2.71"/><circle cx="578.52" cy="192.11" r="2.71"/><circle cx="579.36" cy="199.23" r="2.71"/><circle cx="580.19" cy="205.04" r="2.71"/><circle cx="581.02" cy="197.07" r="2.71"/><circle cx="581.86" cy="206.98" r="2.71"/><circle cx="582.69" cy="196.11" r="2.71"/><circle cx="583.53" cy="204.32" r="2.71"/><circle cx="584.36" cy="203.19" r="2.71"/><circle cx="585.2" cy="210.67" r="2.71"/><circle cx="586.03" cy="211.57" r="2.71"/><circle cx="586.87" cy="212.27" r="2.71"/><circle cx="587.7" cy="204.89" r="2.71"/><circle cx="588.54" cy="214.08" r="2.71"/><circle cx="589.37" cy="212.86" r="2.71"/><circle cx="590.2" cy="206.08" r="2.71"/><circle cx="591.04" cy="210.62" r="2.71"/><circle cx="591.87" cy="215" r="2.71"/><circle cx="592.71" cy="203.27" r="2.71"/><circle cx="593.54" cy="221.44" r="2.71"/><circle cx="594.38" cy="221.92" r="2.71"/><circle cx="595.21" cy="210.43" r="2.71"/><circle cx="596.05" cy="202.9" r="2.71"/><circle cx="596.88" cy="203.21" r="2.71"/><circle cx="597.72" cy="203.52" r="2.71"/><circle cx="598.55" cy="210.43" r="2.71"/><circle cx="599.38" cy="197.59" r="2.71"/><circle cx="600.22" cy="208.14" r="2.71"/><circle cx="601.05" cy="221.67" r="2.71"/><circle cx="601.89" cy="225.06" r="2.71"/><circle cx="602.72" cy="213.07" r="2.71"/><circle cx="603.56" cy="209.94" r="2.71"/><circle cx="604.39" cy="212.29" r="2.71"/><circle cx="605.23" cy="229.04" r="2.71"/><circle cx="606.06" cy="212.58" r="2.71"/><circle cx="606.9" cy="214.38" r="2.71"/><circle cx="607.73" cy="200.61" r="2.71"/><circle cx="608.57" cy="215.84" r="2.71"/><circle cx="609.4" cy="221.33" r="2.71"/><circle cx="610.23" cy="216.58" r="2.71"/><circle cx="611.07" cy="228.24" r="2.71"/><circle cx="611.9" cy="185.74" r="2.71"/><circle cx="612.74" cy="212.23" r="2.71"/><circle cx="613.57" cy="218.48" r="2.71"/><circle cx="614.41" cy="205.93" r="2.71"/><circle cx="615.24" cy="226.13" r="2.71"/><circle cx="616.08" cy="222.5" r="2.71"/><circle cx="616.91" cy="212.88" r="2.71"/><circle cx="617.75" cy="224.13" r="2.71"/><circle cx="618.58" cy="222.4" r="2.71"/><circle cx="619.41" cy="261.44" r="2.71"/><circle cx="620.25" cy="208.66" r="2.71"/><circle cx="621.08" cy="217.56" r="2.71"/><circle cx="621.92" cy="226.71" r="2.71"/><circle cx="622.75" cy="228.24" r="2.71"/><circle cx="623.59" cy="228.71" r="2.71"/><circle cx="624.42" cy="226.78" r="2.71"/><circle cx="625.26" cy="227.03" r="2.71"/><circle cx="626.09" cy="219.06" r="2.71"/><circle cx="626.93" cy="209.11" r="2.71"/><circle cx="627.76" cy="233.66" r="2.71"/><circle cx="628.6" cy="220.81" r="2.71"/><circle cx="629.43" cy="227.43" r="2.71"/><circle cx="630.26" cy="224.85" r="2.71"/><circle cx="631.1" cy="216.82" r="2.71"/><circle cx="631.93" cy="226.13" r="2.71"/><circle cx="632.77" cy="229.15" r="2.71"/><circle cx="633.6" cy="235.41" r="2.71"/><circle cx="634.44" cy="216.93" r="2.71"/><circle cx="635.27" cy="233.33" r="2.71"/><circle cx="636.11" cy="221.69" r="2.71"/><circle cx="636.94" cy="228.18" r="2.71"/><circle cx="637.78" cy="227.65" r="2.71"/><circle cx="638.61" cy="231.69" r="2.71"/><circle cx="639.44" cy="223.33" r="2.71"/><circle cx="640.28" cy="216.02" r="2.71"/><circle cx="641.11" cy="216.45" r="2.71"/><circle cx="641.95" cy="225.69" r="2.71"/><circle cx="642.78" cy="228.49" r="2.71"/><circle cx="643.62" cy="214.16" r="2.71"/><circle cx="644.45" cy="216.88" r="2.71"/><circle cx="645.29" cy="219.76" r="2.71"/><circle cx="646.12" cy="225.72" r="2.71"/><circle cx="646.96" cy="214.59" r="2.71"/><circle cx="647.79" cy="223.34" r="2.71"/><circle cx="648.63" cy="226.42" r="2.71"/><circle cx="649.46" cy="221.48" r="2.71"/><circle cx="650.29" cy="230.74" r="2.71"/><circle cx="651.13" cy="209.65" r="2.71"/><circle cx="651.96" cy="280.57" r="2.71"/><circle cx="652.8" cy="225.05" r="2.71"/><circle cx="653.63" cy="220.29" r="2.71"/><circle cx="654.47" cy="224.89" r="2.71"/><circle cx="655.3" cy="218.23" r="2.71"/><circle cx="656.14" cy="228.89" r="2.71"/><circle cx="656.97" cy="221.9" r="2.71"/><circle cx="657.81" cy="226.05" r="2.71"/><circle cx="658.64" cy="232.33" r="2.71"/><circle cx="659.47" cy="218.15" r="2.71"/><circle cx="660.31" cy="215.89" r="2.71"/><circle cx="661.14" cy="215.99" r="2.71"/><circle cx="661.98" cy="235.68" r="2.71"/><circle cx="662.81" cy="244.18" r="2.71"/><circle cx="663.65" cy="233.02" r="2.71"/><circle cx="664.48" cy="232.51" r="2.71"/><circle cx="665.32" cy="228.24" r="2.71"/><circle cx="591.04" cy="213.1" r="2.71"/><circle cx="591.87" cy="217.08" r="2.71"/><circle cx="592.71" cy="222.4" r="2.71"/><circle cx="593.54" cy="223.72" r="2.71"/><circle cx="594.38" cy="229.04" r="2.71"/><circle cx="595.21" cy="235.01" r="2.71"/><circle cx="596.05" cy="233.02" r="2.71"/><circle cx="596.88" cy="237.8" r="2.71"/><circle cx="597.72" cy="240.99" r="2.71"/><circle cx="598.55" cy="246.41" r="2.71"/></g>
<polyline class="sm" points="533.45,170.49 534.29,173.55 535.12,178.86 535.96,185.09 536.79,190.97 537.63,195.64 538.46,198.82 539.3,200.66 540.13,201.57 540.96,201.92 541.8,202 542.63,201.93 543.47,201.73 544.3,201.44 545.14,201.1 545.97,200.8 546.81,200.63 547.64,200.6 548.48,200.62 549.31,200.56 550.14,200.32 550.98,199.87 551.81,199.29 552.65,198.74 553.48,198.41 554.32,198.43 555.15,198.84 555.99,199.61 556.82,200.63 557.66,201.77 558.49,202.86 559.33,203.72 560.16,204.23 560.99,204.32 561.83,204.07 562.66,203.62 563.5,203.16 564.33,202.85 565.17,202.77 566,202.93 566.84,203.29 567.67,203.77 568.51,204.26 569.34,204.65 570.17,204.89 571.01,204.94 571.84,204.78 572.68,204.4 573.51,203.79 574.35,202.95 575.18,201.96 576.02,200.97 576.85,200.15 577.69,199.65 578.52,199.53 579.36,199.78 580.19,200.33 581.02,201.11 581.86,202.07 582.69,203.18 583.53,204.4 584.36,205.69 585.2,206.94 586.03,208.05 586.87,208.96 587.7,209.65 588.54,210.16 589.37,210.57 590.2,210.94 591.04,211.29 591.87,211.58 592.71,211.68 593.54,211.48 594.38,210.92 595.21,210.09 596.05,209.2 596.88,208.52 597.72,208.33 598.55,208.73 599.38,209.7 600.22,211.02 601.05,212.43 601.89,213.65 602.72,214.54 603.56,215.02 604.39,215.16 605.23,215.04 606.06,214.79 606.9,214.5 607.73,214.25 608.57,214.03 609.4,213.79 610.23,213.53 611.07,213.32 611.9,213.32 612.74,213.72 613.57,214.62 614.41,216.01 615.24,217.77 616.08,219.72 616.91,221.64 617.75,223.33 618.58,224.62 619.41,225.44 620.25,225.81 621.08,225.85 621.92,225.69 622.75,225.39 623.59,225.01 624.42,224.54 625.26,224.06 626.09,223.65 626.93,223.41 627.76,223.4 628.6,223.59 629.43,223.95 630.26,224.41 631.1,224.93 631.93,225.46 632.77,225.93 633.6,226.3 634.44,226.51 635.27,226.55 636.11,226.39 636.94,226.02 637.78,225.45 638.61,224.71 639.44,223.85 640.28,223 641.11,222.23 641.95,221.6 642.78,221.14 643.62,220.87 644.45,220.8 645.29,221 646.12,221.51 646.96,222.36 647.79,223.56 648.63,225.06 649.46,226.69 650.29,228.22 651.13,229.34 651.96,229.81 652.8,229.55 653.63,228.7 654.47,227.56 655.3,226.44 656.14,225.54 656.97,224.94 657.81,224.65 658.64,224.68 659.47,225.07 660.31,225.8 661.14,226.74 661.98,227.65 662.81,228.2 663.65,228.18 664.48,227.6 665.32,226.72 591.04,225.96 591.87,225.72 592.71,226.25 593.54,227.57 594.38,229.53 595.21,231.84 596.05,234.2 596.88,236.29 597.72,237.86 598.55,238.69"/>
</g>
<rect class="fr" x="526.86" y="109.5" width="145.05" height="178.8"/>
<line class="tk" x1="532.62" y1="288.3" x2="532.62" y2="292.09"/>
<text class="xl" x="532.62" y="304.65">0</text>
<line class="tk" x1="574.35" y1="288.3" x2="574.35" y2="292.09"/>
<text class="xl" x="574.35" y="304.65">50</text>
<line class="tk" x1="616.08" y1="288.3" x2="616.08" y2="292.09"/>
<text class="xl" x="616.08" y="304.65">100</text>
<line class="tk" x1="657.81" y1="288.3" x2="657.81" y2="292.09"/>
<text class="xl" x="657.81" y="304.65">150</text>
<line class="tk" x1="523.07" y1="283.49" x2="526.86" y2="283.49"/>
<text class="yl" x="519.27" y="287.84">0.7</text>
<line class="tk" x1="523.07" y1="256.93" x2="526.86" y2="256.93"/>
<text class="yl" x="519.27" y="261.28">0.8</text>
<line class="tk" x1="523.07" y1="230.36" x2="526.86" y2="230.36"/>
<text class="yl" x="519.27" y="234.72">0.9</text>
<line class="tk" x1="523.07" y1="203.8" x2="526.86" y2="203.8"/>
<text class="yl" x="519.27" y="208.15">1.0</text>
<line class="tk" x1="523.07" y1="177.24" x2="526.86" y2="177.24"/>
<text class="yl" x="519.27" y="181.59">1.1</text>
<line class="tk" x1="523.07" y1="150.67" x2="526.86" y2="150.67"/>
<text class="yl" x="519.27" y="155.02">1.2</text>
<line class="tk" x1="523.07" y1="124.11" x2="526.86" y2="124.11"/>
<text class="yl" x="519.27" y="128.46">1.3</text>
<text class="tt" x="599.38" y="102.8">train/dfl_loss</text>
</g>
<g class="ax">
<g clip-path="url(#c3)">
<polyline class="ln" points="718.14,280.17 718.98,280.1 719.81,279.94 720.65,279.77 721.48,279.12 722.32,278.63 723.15,279.77 723.99,279.12 724.82,279.45 725.65,279.77 726.49,279.45 727.32,279.12 728.16,117.45 728.99,279.12 729.83,117.45 730.66,278.63 731.5,117.45 732.33,117.45 733.17,164.09 734,117.45 734.83,117.45 735.67,117.45 736.5,117.45 737.34,117.45 738.17,130.54 739.01,126.12 739.84,119.09 740.68,117.45 741.51,117.45 742.35,117.45 743.18,117.45 744.02,117.45 744.85,117.45 745.68,117.45 746.52,117.45 747.35,117.45 748.19,117.45 749.02,117.45 749.86,117.45 750.69,117.45 751.53,117.45 752.36,121.27 753.2,117.45 754.03,121.27 754.86,121.27 755.7,117.45 756.53,121.27 757.37,117.45 758.2,121.27 759.04,121.27 759.87,117.45 760.71,121.27 761.54,117.45 762.38,121.27 763.21,121.27 764.05,117.45 764.88,121.27 765.71,117.45 766.55,117.45 767.38,117.45 768.22,117.45 769.05,117.45 769.89,117.45 770.72,117.45 771.56,121.27 772.39,117.45 773.23,117.45 774.06,121.27 774.89,121.27 775.73,121.27 776.56,117.45 777.4,117.45 778.23,121.27 779.07,121.27 779.9,121.27 780.74,117.45 781.57,117.45 782.41,117.45 783.24,117.45 784.07,117.45 784.91,117.45 785.74,117.45 786.58,117.45 787.41,117.45 788.25,117.45 789.08,121.27 789.92,121.27 790.75,121.27 791.59,117.45 792.42,117.45 793.26,117.45 794.09,117.45 794.92,121.27 795.76,121.27 796.59,121.27 797.43,117.45 798.26,117.45 799.1,117.45 799.93,121.27 800.77,121.27 801.6,121.27 802.44,121.27 803.27,117.45 804.1,117.45 804.94,117.45 805.77,117.45 806.61,121.27 807.44,121.27 808.28,117.45 809.11,121.27 809.95,121.27 810.78,121.27 811.62,117.45 812.45,121.27 813.29,121.27 814.12,121.27 814.95,117.45 815.79,117.45 816.62,121.27 817.46,121.27 818.29,121.27 819.13,121.27 819.96,121.27 820.8,121.27 821.63,121.27 822.47,119.91 823.3,121.27 824.13,121.27 824.97,121.27 825.8,119.91 826.64,121.27 827.47,121.27 828.31,121.27 829.14,121.27 829.98,117.45 830.81,117.45 831.65,117.45 832.48,121.27 833.32,121.27 834.15,121.27 834.98,121.27 835.82,121.27 836.65,121.27 837.49,121.27 838.32,121.27 839.16,121.27 839.99,121.27 840.83,121.27 841.66,121.27 842.5,121.27 843.33,121.27 844.16,121.27 845,121.27 845.83,121.27 846.67,121.27 847.5,121.27 848.34,121.27 849.17,121.27 850.01,121.27 775.73,117.45 776.56,121.27 777.4,121.27 778.23,117.45 779.07,121.27 779.9,121.27 780.74,121.27 781.57,121.27 782.41,121.27 783.24,125.14"/>
<g class="mk"><circle cx="718.14" cy="280.17" r="2.71"/><circle cx="718.98" cy="280.1" r="2.71"/><circle cx="719.81" cy="279.94" r="2.71"/><circle cx="720.65" cy="279.77" r="2.71"/><circle cx="721.48" cy="279.12" r="2.71"/><circle cx="722.32" cy="278.63" r="2.71"/><circle cx="723.15" cy="279.77" r="2.71"/><circle cx="723.99" cy="279.12" r="2.71"/><circle cx="724.82" cy="279.45" r="2.71"/><circle cx="725.65" cy="279.77" r="2.71"/><circle cx="726.49" cy="279.45" r="2.71"/><circle cx="727.32" cy="279.12" r="2.71"/><circle cx="728.16" cy="117.45" r="2.71"/><circle cx="728.99" cy="279.12" r="2.71"/><circle cx="729.83" cy="117.45" r="2.71"/><circle cx="730.66" cy="278.63" r="2.71"/><circle cx="731.5" cy="117.45" r="2.71"/><circle cx="732.33" cy="117.45" r="2.71"/><circle cx="733.17" cy="164.09" r="2.71"/><circle cx="734" cy="117.45" r="2.71"/><circle cx="734.83" cy="117.45" r="2.71"/><circle cx="735.67" cy="117.45" r="2.71"/><circle cx="736.5" cy="117.45" r="2.71"/><circle cx="737.34" cy="117.45" r="2.71"/><circle cx="738.17" cy="130.54" r="2.71"/><circle cx="739.01" cy="126.12" r="2.71"/><circle cx="739.84" cy="119.09" r="2.71"/><circle cx="740.68" cy="117.45" r="2.71"/><circle cx="741.51" cy="117.45" r="2.71"/><circle cx="742.35" cy="117.45" r="2.71"/><circle cx="743.18" cy="117.45" r="2.71"/><circle cx="744.02" cy="117.45" r="2.71"/><circle cx="744.85" cy="117.45" r="2.71"/><circle cx="745.68" cy="117.45" r="2.71"/><circle cx="746.52" cy="117.45" r="2.71"/><circle cx="747.35" cy="117.45" r="2.71"/><circle cx="748.19" cy="117.45" r="2.71"/><circle cx="749.02" cy="117.45" r="2.71"/><circle cx="749.86" cy="117.45" r="2.71"/><circle cx="750.69" cy="117.45" r="2.71"/><circle cx="751.53" cy="117.45" r="2.71"/><circle cx="752.36" cy="121.27" r="2.71"/><circle cx="753.2" cy="117.45" r="2.71"/><circle cx="754.03" cy="121.27" r="2.71"/><circle cx="754.86" cy="121.27" r="2.71"/><circle cx="755.7" cy="117.45" r="2.71"/><circle cx="756.53" cy="121.27" r="2.71"/><circle cx="757.37" cy="117.45" r="2.71"/><circle cx="758.2" cy="121.27" r="2.71"/><circle cx="759.04" cy="121.27" r="2.71"/><circle cx="759.87" cy="117.45" r="2.71"/><circle cx="760.71" cy="121.27" r="2.71"/><circle cx="761.54" cy="117.45" r="2.71"/><circle cx="762.38" cy="121.27" r="2.71"/><circle cx="763.21" cy="121.27" r="2.71"/><circle cx="764.05" cy="117.45" r="2.71"/><circle cx="764.88" cy="121.27" r="2.71"/><circle cx="765.71" cy="117.45" r="2.71"/><circle cx="766.55" cy="117.45" r="2.71"/><circle cx="767.38" cy="117.45" r="2.71"/><circle cx="768.22" cy="117.45" r="2.71"/><circle cx="769.05" cy="117.45" r="2.71"/><circle cx="769.89" cy="117.45" r="2.71"/><circle cx="770.72" cy="117.45" r="2.71"/><circle cx="771.56" cy="121.27" r="2.71"/><circle cx="772.39" cy="117.45" r="2.71"/><circle cx="773.23" cy="117.45" r="2.71"/><circle cx="774.06" cy="121.27" r="2.71"/><circle cx="774.89" cy="121.27" r="2.71"/><circle cx="775.73" cy="121.27" r="2.71"/><circle cx="776.56" cy="117.45" r="2.71"/><circle cx="777.4" cy="117.45" r="2.71"/><circle cx="778.23" cy="121.27" r="2.71"/><circle cx="779.07" cy="121.27" r="2.71"/><circle cx="779.9" cy="121.27" r="2.71"/><circle cx="780.74" cy="117.45" r="2.71"/><circle cx="781.57" cy="117.45" r="2.71"/><circle cx="782.41" cy="117.45" r="2.71"/><circle cx="783.24" cy="117.45" r="2.71"/><circle cx="784.07" cy="117.45" r="2.71"/><circle cx="784.91" cy="117.45" r="2.71"/><circle cx="785.74" cy="117.45" r="2.71"/><circle cx="786.58" cy="117.45" r="2.71"/><circle cx="787.41" cy="117.45" r="2.71"/><circle cx="788.25" cy="117.45" r="2.71"/><circle cx="789.08" cy="121.27" r="2.71"/><circle cx="789.92" cy="121.27" r="2.71"/><circle cx="790.75" cy="121.27" r="2.71"/><circle cx="791.59" cy="117.45" r="2.71"/><circle cx="792.42" cy="117.45" r="2.71"/><circle cx="793.26" cy="117.45" r="2.71"/><circle cx="794.09" cy="117.45" r="2.71"/><circle cx="794.92" cy="121.27" r="2.71"/><circle cx="795.76" cy="121.27" r="2.71"/><circle cx="796.59" cy="121.27" r="2.71"/><circle cx="797.43" cy="117.45" r="2.71"/><circle cx="798.26" cy="117.45" r="2.71"/><circle cx="799.1" cy="117.45" r="2.71"/><circle cx="799.93" cy="121.27" r="2.71"/><circle cx="800.77" cy="121.27" r="2.71"/><circle cx="801.6" cy="121.27" r="2.71"/><circle cx="802.44" cy="121.27" r="2.71"/><circle cx="803.27" cy="117.45" r="2.71"/><circle cx="804.1" cy="117.45" r="2.71"/><circle cx="804.94" cy="117.45" r="2.71"/><circle cx="805.77" cy="117.45" r="2.71"/><circle cx="806.61" cy="121.27" r="2.71"/><circle cx="807.44" cy="121.27" r="2.71"/><circle cx="808.28" cy="117.45" r="2.71"/><circle cx="809.11" cy="121.27" r="2.71"/><circle cx="809.95" cy="121.27" r="2.71"/><circle cx="810.78" cy="121.27" r="2.71"/><circle cx="811.62" cy="117.45" r="2.71"/><circle cx="812.45" cy="121.27" r="2.71"/><circle cx="813.29" cy="121.27" r="2.71"/><circle cx="814.12" cy="121.27" r="2.71"/><circle cx="814.95" cy="117.45" r="2.71"/><circle cx="815.79" cy="117.45" r="2.71"/><circle cx="816.62" cy="121.27" r="2.71"/><circle cx="817.46" cy="121.27" r="2.71"/><circle cx="818.29" cy="121.27" r="2.71"/><circle cx="819.13" cy="121.27" r="2.71"/><circle cx="819.96" cy="121.27" r="2.71"/><circle cx="820.8" cy="121.27" r="2.71"/><circle cx="821.63" cy="121.27" r="2.71"/><circle cx="822.47" cy="119.91" r="2.71"/><circle cx="823.3" cy="121.27" r="2.71"/><circle cx="824.13" cy="121.27" r="2.71"/><circle cx="824.97" cy="121.27" r="2.71"/><circle cx="825.8" cy="119.91" r="2.71"/><circle cx="826.64" cy="121.27" r="2.71"/><circle cx="827.47" cy="121.27" r="2.71"/><circle cx="828.31" cy="121.27" r="2.71"/><circle cx="829.14" cy="121.27" r="2.71"/><circle cx="829.98" cy="117.45" r="2.71"/><circle cx="830.81" cy="117.45" r="2.71"/><circle cx="831.65" cy="117.45" r="2.71"/><circle cx="832.48" cy="121.27" r="2.71"/><circle cx="833.32" cy="121.27" r="2.71"/><circle cx="834.15" cy="121.27" r="2.71"/><circle cx="834.98" cy="121.27" r="2.71"/><circle cx="835.82" cy="121.27" r="2.71"/><circle cx="836.65" cy="121.27" r="2.71"/><circle cx="837.49" cy="121.27" r="2.71"/><circle cx="838.32" cy="121.27" r="2.71"/><circle cx="839.16" cy="121.27" r="2.71"/><circle cx="839.99" cy="121.27" r="2.71"/><circle cx="840.83" cy="121.27" r="2.71"/><circle cx="841.66" cy="121.27" r="2.71"/><circle cx="842.5" cy="121.27" r="2.71"/><circle cx="843.33" cy="121.27" r="2.71"/><circle cx="844.16" cy="121.27" r="2.71"/><circle cx="845" cy="121.27" r="2.71"/><circle cx="845.83" cy="121.27" r="2.71"/><circle cx="846.67" cy="121.27" r="2.71"/><circle cx="847.5" cy="121.27" r="2.71"/><circle cx="848.34" cy="121.27" r="2.71"/><circle cx="849.17" cy="121.27" r="2.71"/><circle cx="850.01" cy="121.27" r="2.71"/><circle cx="775.73" cy="117.45" r="2.71"/><circle cx="776.56" cy="121.27" r="2.71"/><circle cx="777.4" cy="121.27" r="2.71"/><circle cx="778.23" cy="117.45" r="2.71"/><circle cx="779.07" cy="121.27" r="2.71"/><circle cx="779.9" cy="121.27" r="2.71"/><circle cx="780.74" cy="121.27" r="2.71"/><circle cx="781.57" cy="121.27" r="2.71"/><circle cx="782.41" cy="121.27" r="2.71"/><circle cx="783.24" cy="125.14" r="2.71"/></g>
<polyline class="sm" points="718.14,279.85 718.98,279.79 719.81,279.64 720.65,279.37 721.48,278.84 722.32,277.78 723.15,275.78 723.99,272.26 724.82,266.66 725.65,258.62 726.49,248.13 727.32,235.63 728.16,221.83 728.99,207.49 729.83,193.2 730.66,179.41 731.5,166.46 732.33,154.77 733.17,144.72 734,136.62 734.83,130.56 735.67,126.43 736.5,123.87 737.34,122.4 738.17,121.56 739.01,120.96 739.84,120.36 740.68,119.71 741.51,119.07 742.35,118.5 743.18,118.07 744.02,117.78 744.85,117.61 745.68,117.54 746.52,117.52 747.35,117.55 748.19,117.63 749.02,117.77 749.86,117.97 750.69,118.23 751.53,118.54 752.36,118.85 753.2,119.13 754.03,119.36 754.86,119.53 755.7,119.63 756.53,119.69 757.37,119.72 758.2,119.73 759.04,119.73 759.87,119.72 760.71,119.69 761.54,119.63 762.38,119.53 763.21,119.37 764.05,119.14 764.88,118.86 765.71,118.57 766.55,118.31 767.38,118.12 768.22,118.03 769.05,118.05 769.89,118.18 770.72,118.38 771.56,118.64 772.39,118.91 773.23,119.17 774.06,119.38 774.89,119.53 775.73,119.61 776.56,119.64 777.4,119.6 778.23,119.5 779.07,119.33 779.9,119.08 780.74,118.77 781.57,118.44 782.41,118.14 783.24,117.92 784.07,117.8 784.91,117.8 785.74,117.91 786.58,118.12 787.41,118.39 788.25,118.67 789.08,118.9 789.92,119.04 790.75,119.07 791.59,119.05 792.42,119.03 793.26,119.04 794.09,119.1 794.92,119.2 795.76,119.28 796.59,119.34 797.43,119.38 798.26,119.43 799.1,119.51 799.93,119.58 800.77,119.6 801.6,119.55 802.44,119.42 803.27,119.27 804.1,119.14 804.94,119.12 805.77,119.2 806.61,119.38 807.44,119.6 808.28,119.82 809.11,119.99 809.95,120.11 810.78,120.16 811.62,120.16 812.45,120.12 813.29,120.07 814.12,120.04 814.95,120.05 815.79,120.14 816.62,120.3 817.46,120.49 818.29,120.69 819.13,120.85 819.96,120.95 820.8,120.99 821.63,121 822.47,120.98 823.3,120.96 824.13,120.92 824.97,120.87 825.8,120.78 826.64,120.65 827.47,120.45 828.31,120.22 829.14,119.99 829.98,119.83 830.81,119.77 831.65,119.86 832.48,120.07 833.32,120.34 834.15,120.62 834.98,120.86 835.82,121.04 836.65,121.15 837.49,121.21 838.32,121.24 839.16,121.26 839.99,121.26 840.83,121.26 841.66,121.26 842.5,121.26 843.33,121.26 844.16,121.25 845,121.23 845.83,121.19 846.67,121.12 847.5,121.02 848.34,120.89 849.17,120.73 850.01,120.58 775.73,120.46 776.56,120.4 777.4,120.43 778.23,120.55 779.07,120.78 779.9,121.07 780.74,121.41 781.57,121.74 782.41,122.01 783.24,122.16"/>
</g>
<rect class="fr" x="711.55" y="109.5" width="145.05" height="178.8"/>
<line class="tk" x1="717.31" y1="288.3" x2="717.31" y2="292.09"/>
<text class="xl" x="717.31" y="304.65">0</text>
<line class="tk" x1="759.04" y1="288.3" x2="759.04" y2="292.09"/>
<text class="xl" x="759.04" y="304.65">50</text>
<line class="tk" x1="800.77" y1="288.3" x2="800.77" y2="292.09"/>
<text class="xl" x="800.77" y="304.65">100</text>
<line class="tk" x1="842.5" y1="288.3" x2="842.5" y2="292.09"/>
<text class="xl" x="842.5" y="304.65">150</text>
<line class="tk" x1="707.76" y1="281.08" x2="711.55" y2="281.08"/>
<text class="yl" x="703.96" y="285.43">0.0</text>
<line class="tk" x1="707.76" y1="248.36" x2="711.55" y2="248.36"/>
<text class="yl" x="703.96" y="252.71">0.2</text>
<line class="tk" x1="707.76" y1="215.63" x2="711.55" y2="215.63"/>
<text class="yl" x="703.96" y="219.98">0.4</text>
<line class="tk" x1="707.76" y1="182.91" x2="711.55" y2="182.91"/>
<text class="yl" x="703.96" y="187.26">0.6</text>
<line class="tk" x1="707.76" y1="150.18" x2="711.55" y2="150.18"/>
<text class="yl" x="703.96" y="154.53">0.8</text>
<line class="tk" x1="707.76" y1="117.45" x2="711.55" y2="117.45"/>
<text class="yl" x="703.96" y="121.8">1.0</text>
<text class="tt" x="784.07" y="102.8">metrics/precision(B)</text>
</g>
<g class="ax">
<g clip-path="url(#c4)">
<polyline class="ln" points="902.83,273.97 903.67,230.66 904.5,187.14 905.34,117.46 906.17,122.73 907.01,146.03 907.84,168.02 908.68,187.8 909.51,219.45 910.34,138.78 911.18,161.42 912.01,216.38 912.85,280.12 913.68,117.46 914.52,258.8 915.35,171.75 916.19,269.13 917.02,183.4 917.86,242.75 918.69,280.56 919.52,148.23 920.36,264.3 921.19,142.19 922.03,145.15 922.86,117.46 923.7,117.46 924.53,117.46 925.37,117.6 926.2,117.7 927.04,117.61 927.87,117.7 928.71,117.91 929.54,117.79 930.37,117.68 931.21,117.71 932.04,117.99 932.88,117.73 933.71,117.75 934.55,117.76 935.38,117.59 936.22,117.85 937.05,117.68 937.89,119.66 938.72,117.87 939.55,117.67 940.39,117.67 941.22,117.72 942.06,117.57 942.89,117.96 943.73,117.61 944.56,117.75 945.4,117.72 946.23,117.76 947.07,120.1 947.9,117.83 948.74,117.76 949.57,117.72 950.4,117.89 951.24,117.67 952.07,117.9 952.91,117.75 953.74,117.8 954.58,117.6 955.41,117.88 956.25,117.69 957.08,117.59 957.92,117.59 958.75,117.75 959.58,117.64 960.42,117.91 961.25,117.75 962.09,117.73 962.92,117.59 963.76,117.88 964.59,117.65 965.43,117.69 966.26,117.68 967.1,117.61 967.93,117.81 968.76,117.81 969.6,117.81 970.43,117.61 971.27,117.68 972.1,117.71 972.94,117.59 973.77,117.77 974.61,117.57 975.44,117.72 976.28,118.08 977.11,117.74 977.95,117.67 978.78,117.66 979.61,117.74 980.45,117.63 981.28,117.67 982.12,117.59 982.95,117.69 983.79,119.66 984.62,117.62 985.46,117.95 986.29,117.72 987.13,117.79 987.96,117.58 988.79,117.67 989.63,117.78 990.46,117.59 991.3,117.66 992.13,117.7 992.97,117.68 993.8,117.62 994.64,117.66 995.47,117.6 996.31,117.64 997.14,117.69 997.98,117.69 998.81,117.65 999.64,117.72 1000.48,119.66 1001.31,117.71 1002.15,117.8 1002.98,117.69 1003.82,117.64 1004.65,117.7 1005.49,117.87 1006.32,117.61 1007.16,117.62 1007.99,117.58 1008.82,117.62 1009.66,117.68 1010.49,117.7 1011.33,117.6 1012.16,117.9 1013,117.71 1013.83,117.66 1014.67,117.67 1015.5,119.66 1016.34,117.65 1017.17,117.72 1018.01,117.66 1018.84,117.86 1019.67,117.73 1020.51,117.58 1021.34,117.59 1022.18,117.79 1023.01,117.69 1023.85,117.7 1024.68,117.64 1025.52,117.59 1026.35,117.71 1027.19,117.65 1028.02,117.72 1028.85,117.76 1029.69,117.78 1030.52,117.58 1031.36,117.57 1032.19,117.64 1033.03,117.69 1033.86,117.57 1034.7,117.59 960.42,117.46 961.25,117.68 962.09,122.73 962.92,117.9 963.76,117.68 964.59,122.73 965.43,122.29 966.26,117.68 967.1,122.73 967.93,117.68"/>
<g class="mk"><circle cx="902.83" cy="273.97" r="2.71"/><circle cx="903.67" cy="230.66" r="2.71"/><circle cx="904.5" cy="187.14" r="2.71"/><circle cx="905.34" cy="117.46" r="2.71"/><circle cx="906.17" cy="122.73" r="2.71"/><circle cx="907.01" cy="146.03" r="2.71"/><circle cx="907.84" cy="168.02" r="2.71"/><circle cx="908.68" cy="187.8" r="2.71"/><circle cx="909.51" cy="219.45" r="2.71"/><circle cx="910.34" cy="138.78" r="2.71"/><circle cx="911.18" cy="161.42" r="2.71"/><circle cx="912.01" cy="216.38" r="2.71"/><circle cx="912.85" cy="280.12" r="2.71"/><circle cx="913.68" cy="117.46" r="2.71"/><circle cx="914.52" cy="258.8" r="2.71"/><circle cx="915.35" cy="171.75" r="2.71"/><circle cx="916.19" cy="269.13" r="2.71"/><circle cx="917.02" cy="183.4" r="2.71"/><circle cx="917.86" cy="242.75" r="2.71"/><circle cx="918.69" cy="280.56" r="2.71"/><circle cx="919.52" cy="148.23" r="2.71"/><circle cx="920.36" cy="264.3" r="2.71"/><circle cx="921.19" cy="142.19" r="2.71"/><circle cx="922.03" cy="145.15" r="2.71"/><circle cx="922.86" cy="117.46" r="2.71"/><circle cx="923.7" cy="117.46" r="2.71"/><circle cx="924.53" cy="117.46" r="2.71"/><circle cx="925.37" cy="117.6" r="2.71"/><circle cx="926.2" cy="117.7" r="2.71"/><circle cx="927.04" cy="117.61" r="2.71"/><circle cx="927.87" cy="117.7" r="2.71"/><circle cx="928.71" cy="117.91" r="2.71"/><circle cx="929.54" cy="117.79" r="2.71"/><circle cx="930.37" cy="117.68" r="2.71"/><circle cx="931.21" cy="117.71" r="2.71"/><circle cx="932.04" cy="117.99" r="2.71"/><circle cx="932.88" cy="117.73" r="2.71"/><circle cx="933.71" cy="117.75" r="2.71"/><circle cx="934.55" cy="117.76" r="2.71"/><circle cx="935.38" cy="117.59" r="2.71"/><circle cx="936.22" cy="117.85" r="2.71"/><circle cx="937.05" cy="117.68" r="2.71"/><circle cx="937.89" cy="119.66" r="2.71"/><circle cx="938.72" cy="117.87" r="2.71"/><circle cx="939.55" cy="117.67" r="2.71"/><circle cx="940.39" cy="117.67" r="2.71"/><circle cx="941.22" cy="117.72" r="2.71"/><circle cx="942.06" cy="117.57" r="2.71"/><circle cx="942.89" cy="117.96" r="2.71"/><circle cx="943.73" cy="117.61" r="2.71"/><circle cx="944.56" cy="117.75" r="2.71"/><circle cx="945.4" cy="117.72" r="2.71"/><circle cx="946.23" cy="117.76" r="2.71"/><circle cx="947.07" cy="120.1" r="2.71"/><circle cx="947.9" cy="117.83" r="2.71"/><circle cx="948.74" cy="117.76" r="2.71"/><circle cx="949.57" cy="117.72" r="2.71"/><circle cx="950.4" cy="117.89" r="2.71"/><circle cx="951.24" cy="117.67" r="2.71"/><circle cx="952.07" cy="117.9" r="2.71"/><circle cx="952.91" cy="117.75" r="2.71"/><circle cx="953.74" cy="117.8" r="2.71"/><circle cx="954.58" cy="117.6" r="2.71"/><circle cx="955.41" cy="117.88" r="2.71"/><circle cx="956.25" cy="117.69" r="2.71"/><circle cx="957.08" cy="117.59" r="2.71"/><circle cx="957.92" cy="117.59" r="2.71"/><circle cx="958.75" cy="117.75" r="2.71"/><circle cx="959.58" cy="117.64" r="2.71"/><circle cx="960.42" cy="117.91" r="2.71"/><circle cx="961.25" cy="117.75" r="2.71"/><circle cx="962.09" cy="117.73" r="2.71"/><circle cx="962.92" cy="117.59" r="2.71"/><circle cx="963.76" cy="117.88" r="2.71"/><circle cx="964.59" cy="117.65" r="2.71"/><circle cx="965.43" cy="117.69" r="2.71"/><circle cx="966.26" cy="117.68" r="2.71"/><circle cx="967.1" cy="117.61" r="2.71"/><circle cx="967.93" cy="117.81" r="2.71"/><circle cx="968.76" cy="117.81" r="2.71"/><circle cx="969.6" cy="117.81" r="2.71"/><circle cx="970.43" cy="117.61" r="2.71"/><circle cx="971.27" cy="117.68" r="2.71"/><circle cx="972.1" cy="117.71" r="2.71"/><circle cx="972.94" cy="117.59" r="2.71"/><circle cx="973.77" cy="117.77" r="2.71"/><circle cx="974.61" cy="117.57" r="2.71"/><circle cx="975.44" cy="117.72" r="2.71"/><circle cx="976.28" cy="118.08" r="2.71"/><circle cx="977.11" cy="117.74" r="2.71"/><circle cx="977.95" cy="117.67" r="2.71"/><circle cx="978.78" cy="117.66" r="2.71"/><circle cx="979.61" cy="117.74" r="2.71"/><circle cx="980.45" cy="117.63" r="2.71"/><circle cx="981.28" cy="117.67" r="2.71"/><circle cx="982.12" cy="117.59" r="2.71"/><circle cx="982.95" cy="117.69" r="2.71"/><circle cx="983.79" cy="119.66" r="2.71"/><circle cx="984.62" cy="117.62" r="2.71"/><circle cx="985.46" cy="117.95" r="2.71"/><circle cx="986.29" cy="117.72" r="2.71"/><circle cx="987.13" cy="117.79" r="2.71"/><circle cx="987.96" cy="117.58" r="2.71"/><circle cx="988.79" cy="117.67" r="2.71"/><circle cx="989.63" cy="117.78" r="2.71"/><circle cx="990.46" cy="117.59" r="2.71"/><circle cx="991.3" cy="117.66" r="2.71"/><circle cx="992.13" cy="117.7" r="2.71"/><circle cx="992.97" cy="117.68" r="2.71"/><circle cx="993.8" cy="117.62" r="2.71"/><circle cx="994.64" cy="117.66" r="2.71"/><circle cx="995.47" cy="117.6" r="2.71"/><circle cx="996.31" cy="117.64" r="2.71"/><circle cx="997.14" cy="117.69" r="2.71"/><circle cx="997.98" cy="117.69" r="2.71"/><circle cx="998.81" cy="117.65" r="2.71"/><circle cx="999.64" cy="117.72" r="2.71"/><circle cx="1000.48" cy="119.66" r="2.71"/><circle cx="1001.31" cy="117.71" r="2.71"/><circle cx="1002.15" cy="117.8" r="2.71"/><circle cx="1002.98" cy="117.69" r="2.71"/><circle cx="1003.82" cy="117.64" r="2.71"/><circle cx="1004.65" cy="117.7" r="2.71"/><circle cx="1005.49" cy="117.87" r="2.71"/><circle cx="1006.32" cy="117.61" r="2.71"/><circle cx="1007.16" cy="117.62" r="2.71"/><circle cx="1007.99" cy="117.58" r="2.71"/><circle cx="1008.82" cy="117.62" r="2.71"/><circle cx="1009.66" cy="117.68" r="2.71"/><circle cx="1010.49" cy="117.7" r="2.71"/><circle cx="1011.33" cy="117.6" r="2.71"/><circle cx="1012.16" cy="117.9" r="2.71"/><circle cx="1013" cy="117.71" r="2.71"/><circle cx="1013.83" cy="117.66" r="2.71"/><circle cx="1014.67" cy="117.67" r="2.71"/><circle cx="1015.5" cy="119.66" r="2.71"/><circle cx="1016.34" cy="117.65" r="2.71"/><circle cx="1017.17" cy="117.72" r="2.71"/><circle cx="1018.01" cy="117.66" r="2.71"/><circle cx="1018.84" cy="117.86" r="2.71"/><circle cx="1019.67" cy="117.73" r="2.71"/><circle cx="1020.51" cy="117.58" r="2.71"/><circle cx="1021.34" cy="117.59" r="2.71"/><circle cx="1022.18" cy="117.79" r="2.71"/><circle cx="1023.01" cy="117.69" r="2.71"/><circle cx="1023.85" cy="117.7" r="2.71"/><circle cx="1024.68" cy="117.64" r="2.71"/><circle cx="1025.52" cy="117.59" r="2.71"/><circle cx="1026.35" cy="117.71" r="2.71"/><circle cx="1027.19" cy="117.65" r="2.71"/><circle cx="1028.02" cy="117.72" r="2.71"/><circle cx="1028.85" cy="117.76" r="2.71"/><circle cx="1029.69" cy="117.78" r="2.71"/><circle cx="1030.52" cy="117.58" r="2.71"/><circle cx="1031.36" cy="117.57" r="2.71"/><circle cx="1032.19" cy="117.64" r="2.71"/><circle cx="1033.03" cy="117.69" r="2.71"/><circle cx="1033.86" cy="117.57" r="2.71"/><circle cx="1034.7" cy="117.59" r="2.71"/><circle cx="960.42" cy="117.46" r="2.71"/><circle cx="961.25" cy="117.68" r="2.71"/><circle cx="962.09" cy="122.73" r="2.71"/><circle cx="962.92" cy="117.9" r="2.71"/><circle cx="963.76" cy="117.68" r="2.71"/><circle cx="964.59" cy="122.73" r="2.71"/><circle cx="965.43" cy="122.29" r="2.71"/><circle cx="966.26" cy="117.68" r="2.71"/><circle cx="967.1" cy="122.73" r="2.71"/><circle cx="967.93" cy="117.68" r="2.71"/></g>
<polyline class="sm" points="902.83,202.09 903.67,197.32 904.5,189.43 905.34,180.99 906.17,174.43 907.01,171.17 907.84,171.37 908.68,174.33 909.51,179.01 910.34,184.51 911.18,190.23 912.01,195.81 912.85,201.03 913.68,205.76 914.52,209.89 915.35,213.19 916.19,215.21 917.02,215.28 917.86,212.64 918.69,206.73 919.52,197.5 920.36,185.54 921.19,172.03 922.03,158.42 922.86,146.12 923.7,136.07 924.53,128.65 925.37,123.7 926.2,120.71 927.04,119.09 927.87,118.3 928.71,117.95 929.54,117.82 930.37,117.79 931.21,117.78 932.04,117.79 932.88,117.8 933.71,117.82 934.55,117.86 935.38,117.9 936.22,117.95 937.05,117.98 937.89,117.99 938.72,117.97 939.55,117.94 940.39,117.89 941.22,117.85 942.06,117.83 942.89,117.84 943.73,117.88 944.56,117.94 945.4,118 946.23,118.05 947.07,118.07 947.9,118.06 948.74,118.02 949.57,117.97 950.4,117.91 951.24,117.85 952.07,117.81 952.91,117.78 953.74,117.76 954.58,117.74 955.41,117.73 956.25,117.71 957.08,117.71 957.92,117.71 958.75,117.71 959.58,117.72 960.42,117.72 961.25,117.73 962.09,117.73 962.92,117.72 963.76,117.72 964.59,117.72 965.43,117.71 966.26,117.71 967.1,117.72 967.93,117.72 968.76,117.72 969.6,117.72 970.43,117.71 971.27,117.71 972.1,117.7 972.94,117.71 973.77,117.71 974.61,117.72 975.44,117.73 976.28,117.74 977.11,117.74 977.95,117.74 978.78,117.75 979.61,117.76 980.45,117.8 981.28,117.84 982.12,117.89 982.95,117.94 983.79,117.96 984.62,117.96 985.46,117.92 986.29,117.87 987.13,117.82 987.96,117.77 988.79,117.73 989.63,117.7 990.46,117.69 991.3,117.67 992.13,117.67 992.97,117.66 993.8,117.67 994.64,117.67 995.47,117.69 996.31,117.73 997.14,117.78 997.98,117.84 998.81,117.89 999.64,117.94 1000.48,117.96 1001.31,117.95 1002.15,117.92 1002.98,117.87 1003.82,117.81 1004.65,117.76 1005.49,117.72 1006.32,117.69 1007.16,117.68 1007.99,117.67 1008.82,117.67 1009.66,117.69 1010.49,117.72 1011.33,117.75 1012.16,117.8 1013,117.86 1013.83,117.91 1014.67,117.94 1015.5,117.96 1016.34,117.94 1017.17,117.91 1018.01,117.86 1018.84,117.81 1019.67,117.76 1020.51,117.73 1021.34,117.7 1022.18,117.69 1023.01,117.68 1023.85,117.68 1024.68,117.68 1025.52,117.68 1026.35,117.68 1027.19,117.68 1028.02,117.68 1028.85,117.68 1029.69,117.68 1030.52,117.68 1031.36,117.69 1032.19,117.74 1033.03,117.82 1033.86,117.97 1034.7,118.18"/>
<polyline class="sm" stroke-dashoffset="3.67" points="1034.7,118.18 960.42,118.45 961.25,118.77 962.09,119.1 962.92,119.42 963.76,119.68 964.59,119.88 965.43,119.98 966.26,120.02 967.1,120.01 967.93,119.99"/>
</g>
<rect class="fr" x="896.24" y="109.5" width="145.05" height="178.8"/>
<line class="tk" x1="902" y1="288.3" x2="902" y2="292.09"/>
<text class="xl" x="902" y="304.65">0</text>
<line class="tk" x1="943.73" y1="288.3" x2="943.73" y2="292.09"/>
<text class="xl" x="943.73" y="304.65">50</text>
<line class="tk" x1="985.46" y1="288.3" x2="985.46" y2="292.09"/>
<text class="xl" x="985.46" y="304.65">100</text>
<line class="tk" x1="1027.19" y1="288.3" x2="1027.19" y2="292.09"/>
<text class="xl" x="1027.19" y="304.65">150</text>
<line class="tk" x1="892.45" y1="249.35" x2="896.24" y2="249.35"/>
<text class="yl" x="888.65" y="253.7">0.4</text>
<line class="tk" x1="892.45" y1="205.38" x2="896.24" y2="205.38"/>
<text class="yl" x="888.65" y="209.74">0.6</text>
<line class="tk" x1="892.45" y1="161.42" x2="896.24" y2="161.42"/>
<text class="yl" x="888.65" y="165.77">0.8</text>
<line class="tk" x1="892.45" y1="117.46" x2="896.24" y2="117.46"/>
<text class="yl" x="888.65" y="121.81">1.0</text>
<text class="tt" x="968.76" y="102.8">metrics/recall(B)</text>
</g>
<g class="ax">
<g clip-path="url(#c5)">
<polyline class="ln" points="164.07,345.51 164.91,446.85 165.74,472.18 166.58,476.23 167.41,480.29 168.25,471.17 169.08,492.45 169.92,508.25 170.75,492.45 171.58,481.78 172.42,495.59 173.25,476.23 174.09,494.91 174.92,491.95 175.76,490.06 176.59,492.41 177.43,482.22 178.26,488.39 179.1,475.83 179.93,486.95 180.76,476.85 181.6,488.07 182.43,484.79 183.27,481.36 184.1,473.19 184.94,474.21 185.77,481.29 186.61,477.65 187.44,483.96 188.28,475.22 189.11,475.92 189.95,485.91 190.78,496.09 191.61,482.68 192.45,482.33 193.28,465.69 194.12,472.18 194.95,489.41 195.79,470.15 196.62,463.67 197.46,472.18 198.29,478.96 199.13,478.41 199.96,478.64 200.79,479.85 201.63,475.37 202.46,488.39 203.3,450.9 204.13,488.39 204.97,458.19 205.8,495.49 206.64,486.37 207.47,488.39 208.31,451.91 209.14,484.34 209.98,459.41 210.81,486.37 211.64,498.38 212.48,488.41 213.31,484.44 214.15,499.54 214.98,483.35 215.82,491.34 216.65,482.31 217.49,497.55 218.32,507.24 219.16,500.55 219.99,506.63 220.82,486.16 221.66,495.87 222.49,492.76 223.33,483.85 224.16,483.33 225,490.42 225.83,464.28 226.67,488.39 227.5,477.91 228.34,484.17 229.17,490.76 230,478.46 230.84,482.31 231.67,495.91 232.51,504.2 233.34,493.88 234.18,492.89 235.01,493.47 235.85,485.56 236.68,486.37 237.52,496.81 238.35,500.67 239.19,504 240.02,502.56 240.85,504.17 241.69,499.16 242.52,490.62 243.36,491.99 244.19,495.45 245.03,488.03 245.86,494.85 246.7,489.41 247.53,490 248.37,492.21 249.2,493.75 250.03,495.36 250.87,489 251.7,489.17 252.54,498.72 253.37,496.09 254.21,487.92 255.04,500.55 255.88,500.19 256.71,491.63 257.55,486.6 258.38,486.57 259.22,495.3 260.05,487.8 260.88,494.95 261.72,495.5 262.55,494.76 263.39,498.74 264.22,500.66 265.06,484.95 265.89,488.26 266.73,494.86 267.56,496.75 268.4,493.58 269.23,501.77 270.06,501.84 270.9,499.53 271.73,492.58 272.57,483.33 273.4,500.03 274.24,499.28 275.07,489.33 275.91,499.09 276.74,486.97 277.58,490.36 278.41,495.96 279.25,492.77 280.08,490.42 280.91,489.18 281.75,483.93 282.58,484.03 283.42,486.32 284.25,492.42 285.09,478.46 285.92,482.31 286.76,493.28 287.59,491.13 288.43,499.22 289.26,488.39 290.09,494.32 290.93,496.04 291.76,501.01 292.6,498.52 293.43,499.75 294.27,503.59 295.1,500.55 295.94,495.49 221.66,500.55 222.49,497.51 223.33,495.49 224.16,494.47 225,499.54 225.83,496.5 226.67,498.53 227.5,502.58 228.34,497.51 229.17,501.57"/>
<g class="mk"><circle cx="164.07" cy="345.51" r="2.71"/><circle cx="164.91" cy="446.85" r="2.71"/><circle cx="165.74" cy="472.18" r="2.71"/><circle cx="166.58" cy="476.23" r="2.71"/><circle cx="167.41" cy="480.29" r="2.71"/><circle cx="168.25" cy="471.17" r="2.71"/><circle cx="169.08" cy="492.45" r="2.71"/><circle cx="169.92" cy="508.25" r="2.71"/><circle cx="170.75" cy="492.45" r="2.71"/><circle cx="171.58" cy="481.78" r="2.71"/><circle cx="172.42" cy="495.59" r="2.71"/><circle cx="173.25" cy="476.23" r="2.71"/><circle cx="174.09" cy="494.91" r="2.71"/><circle cx="174.92" cy="491.95" r="2.71"/><circle cx="175.76" cy="490.06" r="2.71"/><circle cx="176.59" cy="492.41" r="2.71"/><circle cx="177.43" cy="482.22" r="2.71"/><circle cx="178.26" cy="488.39" r="2.71"/><circle cx="179.1" cy="475.83" r="2.71"/><circle cx="179.93" cy="486.95" r="2.71"/><circle cx="180.76" cy="476.85" r="2.71"/><circle cx="181.6" cy="488.07" r="2.71"/><circle cx="182.43" cy="484.79" r="2.71"/><circle cx="183.27" cy="481.36" r="2.71"/><circle cx="184.1" cy="473.19" r="2.71"/><circle cx="184.94" cy="474.21" r="2.71"/><circle cx="185.77" cy="481.29" r="2.71"/><circle cx="186.61" cy="477.65" r="2.71"/><circle cx="187.44" cy="483.96" r="2.71"/><circle cx="188.28" cy="475.22" r="2.71"/><circle cx="189.11" cy="475.92" r="2.71"/><circle cx="189.95" cy="485.91" r="2.71"/><circle cx="190.78" cy="496.09" r="2.71"/><circle cx="191.61" cy="482.68" r="2.71"/><circle cx="192.45" cy="482.33" r="2.71"/><circle cx="193.28" cy="465.69" r="2.71"/><circle cx="194.12" cy="472.18" r="2.71"/><circle cx="194.95" cy="489.41" r="2.71"/><circle cx="195.79" cy="470.15" r="2.71"/><circle cx="196.62" cy="463.67" r="2.71"/><circle cx="197.46" cy="472.18" r="2.71"/><circle cx="198.29" cy="478.96" r="2.71"/><circle cx="199.13" cy="478.41" r="2.71"/><circle cx="199.96" cy="478.64" r="2.71"/><circle cx="200.79" cy="479.85" r="2.71"/><circle cx="201.63" cy="475.37" r="2.71"/><circle cx="202.46" cy="488.39" r="2.71"/><circle cx="203.3" cy="450.9" r="2.71"/><circle cx="204.13" cy="488.39" r="2.71"/><circle cx="204.97" cy="458.19" r="2.71"/><circle cx="205.8" cy="495.49" r="2.71"/><circle cx="206.64" cy="486.37" r="2.71"/><circle cx="207.47" cy="488.39" r="2.71"/><circle cx="208.31" cy="451.91" r="2.71"/><circle cx="209.14" cy="484.34" r="2.71"/><circle cx="209.98" cy="459.41" r="2.71"/><circle cx="210.81" cy="486.37" r="2.71"/><circle cx="211.64" cy="498.38" r="2.71"/><circle cx="212.48" cy="488.41" r="2.71"/><circle cx="213.31" cy="484.44" r="2.71"/><circle cx="214.15" cy="499.54" r="2.71"/><circle cx="214.98" cy="483.35" r="2.71"/><circle cx="215.82" cy="491.34" r="2.71"/><circle cx="216.65" cy="482.31" r="2.71"/><circle cx="217.49" cy="497.55" r="2.71"/><circle cx="218.32" cy="507.24" r="2.71"/><circle cx="219.16" cy="500.55" r="2.71"/><circle cx="219.99" cy="506.63" r="2.71"/><circle cx="220.82" cy="486.16" r="2.71"/><circle cx="221.66" cy="495.87" r="2.71"/><circle cx="222.49" cy="492.76" r="2.71"/><circle cx="223.33" cy="483.85" r="2.71"/><circle cx="224.16" cy="483.33" r="2.71"/><circle cx="225" cy="490.42" r="2.71"/><circle cx="225.83" cy="464.28" r="2.71"/><circle cx="226.67" cy="488.39" r="2.71"/><circle cx="227.5" cy="477.91" r="2.71"/><circle cx="228.34" cy="484.17" r="2.71"/><circle cx="229.17" cy="490.76" r="2.71"/><circle cx="230" cy="478.46" r="2.71"/><circle cx="230.84" cy="482.31" r="2.71"/><circle cx="231.67" cy="495.91" r="2.71"/><circle cx="232.51" cy="504.2" r="2.71"/><circle cx="233.34" cy="493.88" r="2.71"/><circle cx="234.18" cy="492.89" r="2.71"/><circle cx="235.01" cy="493.47" r="2.71"/><circle cx="235.85" cy="485.56" r="2.71"/><circle cx="236.68" cy="486.37" r="2.71"/><circle cx="237.52" cy="496.81" r="2.71"/><circle cx="238.35" cy="500.67" r="2.71"/><circle cx="239.19" cy="504" r="2.71"/><circle cx="240.02" cy="502.56" r="2.71"/><circle cx="240.85" cy="504.17" r="2.71"/><circle cx="241.69" cy="499.16" r="2.71"/><circle cx="242.52" cy="490.62" r="2.71"/><circle cx="243.36" cy="491.99" r="2.71"/><circle cx="244.19" cy="495.45" r="2.71"/><circle cx="245.03" cy="488.03" r="2.71"/><circle cx="245.86" cy="494.85" r="2.71"/><circle cx="246.7" cy="489.41" r="2.71"/><circle cx="247.53" cy="490" r="2.71"/><circle cx="248.37" cy="492.21" r="2.71"/><circle cx="249.2" cy="493.75" r="2.71"/><circle cx="250.03" cy="495.36" r="2.71"/><circle cx="250.87" cy="489" r="2.71"/><circle cx="251.7" cy="489.17" r="2.71"/><circle cx="252.54" cy="498.72" r="2.71"/><circle cx="253.37" cy="496.09" r="2.71"/><circle cx="254.21" cy="487.92" r="2.71"/><circle cx="255.04" cy="500.55" r="2.71"/><circle cx="255.88" cy="500.19" r="2.71"/><circle cx="256.71" cy="491.63" r="2.71"/><circle cx="257.55" cy="486.6" r="2.71"/><circle cx="258.38" cy="486.57" r="2.71"/><circle cx="259.22" cy="495.3" r="2.71"/><circle cx="260.05" cy="487.8" r="2.71"/><circle cx="260.88" cy="494.95" r="2.71"/><circle cx="261.72" cy="495.5" r="2.71"/><circle cx="262.55" cy="494.76" r="2.71"/><circle cx="263.39" cy="498.74" r="2.71"/><circle cx="264.22" cy="500.66" r="2.71"/><circle cx="265.06" cy="484.95" r="2.71"/><circle cx="265.89" cy="488.26" r="2.71"/><circle cx="266.73" cy="494.86" r="2.71"/><circle cx="267.56" cy="496.75" r="2.71"/><circle cx="268.4" cy="493.58" r="2.71"/><circle cx="269.23" cy="501.77" r="2.71"/><circle cx="270.06" cy="501.84" r="2.71"/><circle cx="270.9" cy="499.53" r="2.71"/><circle cx="271.73" cy="492.58" r="2.71"/><circle cx="272.57" cy="483.33" r="2.71"/><circle cx="273.4" cy="500.03" r="2.71"/><circle cx="274.24" cy="499.28" r="2.71"/><circle cx="275.07" cy="489.33" r="2.71"/><circle cx="275.91" cy="499.09" r="2.71"/><circle cx="276.74" cy="486.97" r="2.71"/><circle cx="277.58" cy="490.36" r="2.71"/><circle cx="278.41" cy="495.96" r="2.71"/><circle cx="279.25" cy="492.77" r="2.71"/><circle cx="280.08" cy="490.42" r="2.71"/><circle cx="280.91" cy="489.18" r="2.71"/><circle cx="281.75" cy="483.93" r="2.71"/><circle cx="282.58" cy="484.03" r="2.71"/><circle cx="283.42" cy="486.32" r="2.71"/><circle cx="284.25" cy="492.42" r="2.71"/><circle cx="285.09" cy="478.46" r="2.71"/><circle cx="285.92" cy="482.31" r="2.71"/><circle cx="286.76" cy="493.28" r="2.71"/><circle cx="287.59" cy="491.13" r="2.71"/><circle cx="288.43" cy="499.22" r="2.71"/><circle cx="289.26" cy="488.39" r="2.71"/><circle cx="290.09" cy="494.32" r="2.71"/><circle cx="290.93" cy="496.04" r="2.71"/><circle cx="291.76" cy="501.01" r="2.71"/><circle cx="292.6" cy="498.52" r="2.71"/><circle cx="293.43" cy="499.75" r="2.71"/><circle cx="294.27" cy="503.59" r="2.71"/><circle cx="295.1" cy="500.55" r="2.71"/><circle cx="295.94" cy="495.49" r="2.71"/><circle cx="221.66" cy="500.55" r="2.71"/><circle cx="222.49" cy="497.51" r="2.71"/><circle cx="223.33" cy="495.49" r="2.71"/><circle cx="224.16" cy="494.47" r="2.71"/><circle cx="225" cy="499.54" r="2.71"/><circle cx="225.83" cy="496.5" r="2.71"/><circle cx="226.67" cy="498.53" r="2.71"/><circle cx="227.5" cy="502.58" r="2.71"/><circle cx="228.34" cy="497.51" r="2.71"/><circle cx="229.17" cy="501.57" r="2.71"/></g>
<polyline class="sm" points="164.07,435.86 164.91,440.36 165.74,448.25 166.58,457.75 167.41,467.13 168.25,475.13 169.08,481.19 169.92,485.26 170.75,487.65 171.58,488.83 172.42,489.24 173.25,489.24 174.09,489.02 174.92,488.63 175.76,488.05 176.59,487.26 177.43,486.3 178.26,485.29 179.1,484.32 179.93,483.44 180.76,482.65 181.6,481.89 182.43,481.14 183.27,480.43 184.1,479.84 184.94,479.46 185.77,479.37 186.61,479.58 187.44,480.03 188.28,480.59 189.11,481.09 189.95,481.31 190.78,481.12 191.61,480.45 192.45,479.39 193.28,478.13 194.12,476.9 194.95,475.9 195.79,475.27 196.62,475.04 197.46,475.18 198.29,475.56 199.13,476 199.96,476.33 200.79,476.47 201.63,476.45 202.46,476.4 203.3,476.48 204.13,476.73 204.97,477.1 205.8,477.45 206.64,477.7 207.47,477.91 208.31,478.3 209.14,479.11 209.98,480.48 210.81,482.29 211.64,484.32 212.48,486.27 213.31,487.97 214.15,489.41 214.98,490.72 215.82,492.02 216.65,493.34 217.49,494.53 218.32,495.37 219.16,495.61 219.99,495.11 220.82,493.9 221.66,492.13 222.49,490.06 223.33,487.94 224.16,486.04 225,484.54 225.83,483.59 226.67,483.26 227.5,483.53 228.34,484.34 229.17,485.58 230,487.1 230.84,488.71 231.67,490.21 232.51,491.41 233.34,492.24 234.18,492.79 235.01,493.24 235.85,493.84 236.68,494.7 237.52,495.78 238.35,496.86 239.19,497.68 240.02,498 240.85,497.74 241.69,496.98 242.52,495.92 243.36,494.77 244.19,493.74 245.03,492.95 245.86,492.42 246.7,492.14 247.53,492.07 248.37,492.15 249.2,492.34 250.03,492.61 250.87,492.93 251.7,493.28 252.54,493.61 253.37,493.85 254.21,493.91 255.04,493.76 255.88,493.4 256.71,492.95 257.55,492.54 258.38,492.33 259.22,492.4 260.05,492.72 260.88,493.19 261.72,493.65 262.55,493.97 263.39,494.12 264.22,494.14 265.06,494.17 265.89,494.34 266.73,494.71 267.56,495.21 268.4,495.71 269.23,496.03 270.06,496.08 270.9,495.87 271.73,495.46 272.57,494.99 273.4,494.52 274.24,494.08 275.07,493.64 275.91,493.18 276.74,492.66 277.58,492.07 278.41,491.38 279.25,490.58 280.08,489.7 280.91,488.81 281.75,488.01 282.58,487.42 283.42,487.14 284.25,487.22 285.09,487.71 285.92,488.56 286.76,489.7 287.59,491.01 288.43,492.39 289.26,493.75 290.09,495.05 290.93,496.26 291.76,497.3 292.6,498.13 293.43,498.68 294.27,498.92 295.1,498.9 295.94,498.67 221.66,498.34 222.49,498.04 223.33,497.86 224.16,497.85 225,498.02 225.83,498.33 226.67,498.72 227.5,499.1 228.34,499.4 229.17,499.56"/>
</g>
<rect class="fr" x="157.48" y="337.06" width="145.05" height="179.24"/>
<line class="tk" x1="163.24" y1="516.3" x2="163.24" y2="520.09"/>
<text class="xl" x="163.24" y="532.65">0</text>
<line class="tk" x1="204.97" y1="516.3" x2="204.97" y2="520.09"/>
<text class="xl" x="204.97" y="532.65">50</text>
<line class="tk" x1="246.7" y1="516.3" x2="246.7" y2="520.09"/>
<text class="xl" x="246.7" y="532.65">100</text>
<line class="tk" x1="288.43" y1="516.3" x2="288.43" y2="520.09"/>
<text class="xl" x="288.43" y="532.65">150</text>
<line class="tk" x1="153.69" y1="492.45" x2="157.48" y2="492.45"/>
<text class="yl" x="149.89" y="496.8">1.0</text>
<line class="tk" x1="153.69" y1="451.91" x2="157.48" y2="451.91"/>
<text class="yl" x="149.89" y="456.26">1.2</text>
<line class="tk" x1="153.69" y1="411.38" x2="157.48" y2="411.38"/>
<text class="yl" x="149.89" y="415.73">1.4</text>
<line class="tk" x1="153.69" y1="370.84" x2="157.48" y2="370.84"/>
<text class="yl" x="149.89" y="375.2">1.6</text>
<text class="tt" x="230" y="329.76">val/box_loss</text>
</g>
<g class="ax">
<g clip-path="url(#c6)">
<polyline class="ln" points="348.76,345.63 349.6,364.74 350.43,369.02 351.27,371.16 352.1,380.17 352.94,378.44 353.77,378.18 354.61,379.51 355.44,384.13 356.27,387.48 357.11,391.45 357.94,388.71 358.78,397.71 359.61,405.6 360.45,403.46 361.28,410.05 362.12,414.47 362.95,414.28 363.79,421.7 364.62,425.17 365.45,432.49 366.29,442.84 367.12,442.63 367.96,454.42 368.79,453.66 369.63,461.11 370.46,480.4 371.3,470.39 372.13,475.65 372.97,479.29 373.8,482.78 374.64,482.62 375.47,485.66 376.3,485.53 377.14,487.23 377.97,490.09 378.81,492.03 379.64,494.23 380.48,494.52 381.31,494.97 382.15,495.47 382.98,494.98 383.82,496.32 384.65,494.63 385.48,495.04 386.32,496.25 387.15,496.05 387.99,495.96 388.82,496.04 389.66,495.19 390.49,494.35 391.33,495.7 392.16,496.34 393,496.83 393.83,497.13 394.67,497.26 395.5,498.47 396.33,497.63 397.17,497.52 398,498.25 398.84,497.73 399.67,498.33 400.51,499.02 401.34,499.58 402.18,501.25 403.01,500.72 403.85,501.46 404.68,502.22 405.51,501.58 406.35,501.84 407.18,502.87 408.02,502.38 408.85,503.29 409.69,503.34 410.52,504.22 411.36,502.95 412.19,504.74 413.03,504.02 413.86,503.73 414.69,505.2 415.53,504.66 416.36,504.84 417.2,504.56 418.03,504.46 418.87,505.42 419.7,506.04 420.54,504.74 421.37,504.93 422.21,505.91 423.04,505.56 423.88,505.61 424.71,505.58 425.54,505.84 426.38,505.29 427.21,506.96 428.05,505.61 428.88,506.02 429.72,506.4 430.55,505.75 431.39,507.14 432.22,505.57 433.06,505.88 433.89,506.57 434.72,505.67 435.56,505.95 436.39,504.63 437.23,504.34 438.06,504.7 438.9,505.23 439.73,505.62 440.57,505.94 441.4,506.52 442.24,506.83 443.07,506.82 443.91,506.8 444.74,506.71 445.57,506.59 446.41,506.49 447.24,504.92 448.08,506.25 448.91,505.71 449.75,504.66 450.58,505.19 451.42,505.41 452.25,505.82 453.09,505.93 453.92,506.55 454.75,507.81 455.59,506.73 456.42,508.17 457.26,507.36 458.09,507.56 458.93,507.84 459.76,506.99 460.6,507.39 461.43,506.77 462.27,508.06 463.1,506.86 463.94,507.02 464.77,507.19 465.6,507.96 466.44,507.34 467.27,507.99 468.11,508.04 468.94,506.27 469.78,506.62 470.61,506.23 471.45,507.31 472.28,506.77 473.12,506.8 473.95,506.89 474.78,507.23 475.62,507.38 476.45,508.18 477.29,507.02 478.12,507.15 478.96,506.83 479.79,507.58 480.63,506.6 406.35,501.51 407.18,499.79 408.02,498.94 408.85,498.29 409.69,498.08 410.52,498.51 411.36,498.08 412.19,498.72 413.03,499.37 413.86,500.22"/>
<g class="mk"><circle cx="348.76" cy="345.63" r="2.71"/><circle cx="349.6" cy="364.74" r="2.71"/><circle cx="350.43" cy="369.02" r="2.71"/><circle cx="351.27" cy="371.16" r="2.71"/><circle cx="352.1" cy="380.17" r="2.71"/><circle cx="352.94" cy="378.44" r="2.71"/><circle cx="353.77" cy="378.18" r="2.71"/><circle cx="354.61" cy="379.51" r="2.71"/><circle cx="355.44" cy="384.13" r="2.71"/><circle cx="356.27" cy="387.48" r="2.71"/><circle cx="357.11" cy="391.45" r="2.71"/><circle cx="357.94" cy="388.71" r="2.71"/><circle cx="358.78" cy="397.71" r="2.71"/><circle cx="359.61" cy="405.6" r="2.71"/><circle cx="360.45" cy="403.46" r="2.71"/><circle cx="361.28" cy="410.05" r="2.71"/><circle cx="362.12" cy="414.47" r="2.71"/><circle cx="362.95" cy="414.28" r="2.71"/><circle cx="363.79" cy="421.7" r="2.71"/><circle cx="364.62" cy="425.17" r="2.71"/><circle cx="365.45" cy="432.49" r="2.71"/><circle cx="366.29" cy="442.84" r="2.71"/><circle cx="367.12" cy="442.63" r="2.71"/><circle cx="367.96" cy="454.42" r="2.71"/><circle cx="368.79" cy="453.66" r="2.71"/><circle cx="369.63" cy="461.11" r="2.71"/><circle cx="370.46" cy="480.4" r="2.71"/><circle cx="371.3" cy="470.39" r="2.71"/><circle cx="372.13" cy="475.65" r="2.71"/><circle cx="372.97" cy="479.29" r="2.71"/><circle cx="373.8" cy="482.78" r="2.71"/><circle cx="374.64" cy="482.62" r="2.71"/><circle cx="375.47" cy="485.66" r="2.71"/><circle cx="376.3" cy="485.53" r="2.71"/><circle cx="377.14" cy="487.23" r="2.71"/><circle cx="377.97" cy="490.09" r="2.71"/><circle cx="378.81" cy="492.03" r="2.71"/><circle cx="379.64" cy="494.23" r="2.71"/><circle cx="380.48" cy="494.52" r="2.71"/><circle cx="381.31" cy="494.97" r="2.71"/><circle cx="382.15" cy="495.47" r="2.71"/><circle cx="382.98" cy="494.98" r="2.71"/><circle cx="383.82" cy="496.32" r="2.71"/><circle cx="384.65" cy="494.63" r="2.71"/><circle cx="385.48" cy="495.04" r="2.71"/><circle cx="386.32" cy="496.25" r="2.71"/><circle cx="387.15" cy="496.05" r="2.71"/><circle cx="387.99" cy="495.96" r="2.71"/><circle cx="388.82" cy="496.04" r="2.71"/><circle cx="389.66" cy="495.19" r="2.71"/><circle cx="390.49" cy="494.35" r="2.71"/><circle cx="391.33" cy="495.7" r="2.71"/><circle cx="392.16" cy="496.34" r="2.71"/><circle cx="393" cy="496.83" r="2.71"/><circle cx="393.83" cy="497.13" r="2.71"/><circle cx="394.67" cy="497.26" r="2.71"/><circle cx="395.5" cy="498.47" r="2.71"/><circle cx="396.33" cy="497.63" r="2.71"/><circle cx="397.17" cy="497.52" r="2.71"/><circle cx="398" cy="498.25" r="2.71"/><circle cx="398.84" cy="497.73" r="2.71"/><circle cx="399.67" cy="498.33" r="2.71"/><circle cx="400.51" cy="499.02" r="2.71"/><circle cx="401.34" cy="499.58" r="2.71"/><circle cx="402.18" cy="501.25" r="2.71"/><circle cx="403.01" cy="500.72" r="2.71"/><circle cx="403.85" cy="501.46" r="2.71"/><circle cx="404.68" cy="502.22" r="2.71"/><circle cx="405.51" cy="501.58" r="2.71"/><circle cx="406.35" cy="501.84" r="2.71"/><circle cx="407.18" cy="502.87" r="2.71"/><circle cx="408.02" cy="502.38" r="2.71"/><circle cx="408.85" cy="503.29" r="2.71"/><circle cx="409.69" cy="503.34" r="2.71"/><circle cx="410.52" cy="504.22" r="2.71"/><circle cx="411.36" cy="502.95" r="2.71"/><circle cx="412.19" cy="504.74" r="2.71"/><circle cx="413.03" cy="504.02" r="2.71"/><circle cx="413.86" cy="503.73" r="2.71"/><circle cx="414.69" cy="505.2" r="2.71"/><circle cx="415.53" cy="504.66" r="2.71"/><circle cx="416.36" cy="504.84" r="2.71"/><circle cx="417.2" cy="504.56" r="2.71"/><circle cx="418.03" cy="504.46" r="2.71"/><circle cx="418.87" cy="505.42" r="2.71"/><circle cx="419.7" cy="506.04" r="2.71"/><circle cx="420.54" cy="504.74" r="2.71"/><circle cx="421.37" cy="504.93" r="2.71"/><circle cx="422.21" cy="505.91" r="2.71"/><circle cx="423.04" cy="505.56" r="2.71"/><circle cx="423.88" cy="505.61" r="2.71"/><circle cx="424.71" cy="505.58" r="2.71"/><circle cx="425.54" cy="505.84" r="2.71"/><circle cx="426.38" cy="505.29" r="2.71"/><circle cx="427.21" cy="506.96" r="2.71"/><circle cx="428.05" cy="505.61" r="2.71"/><circle cx="428.88" cy="506.02" r="2.71"/><circle cx="429.72" cy="506.4" r="2.71"/><circle cx="430.55" cy="505.75" r="2.71"/><circle cx="431.39" cy="507.14" r="2.71"/><circle cx="432.22" cy="505.57" r="2.71"/><circle cx="433.06" cy="505.88" r="2.71"/><circle cx="433.89" cy="506.57" r="2.71"/><circle cx="434.72" cy="505.67" r="2.71"/><circle cx="435.56" cy="505.95" r="2.71"/><circle cx="436.39" cy="504.63" r="2.71"/><circle cx="437.23" cy="504.34" r="2.71"/><circle cx="438.06" cy="504.7" r="2.71"/><circle cx="438.9" cy="505.23" r="2.71"/><circle cx="439.73" cy="505.62" r="2.71"/><circle cx="440.57" cy="505.94" r="2.71"/><circle cx="441.4" cy="506.52" r="2.71"/><circle cx="442.24" cy="506.83" r="2.71"/><circle cx="443.07" cy="506.82" r="2.71"/><circle cx="443.91" cy="506.8" r="2.71"/><circle cx="444.74" cy="506.71" r="2.71"/><circle cx="445.57" cy="506.59" r="2.71"/><circle cx="446.41" cy="506.49" r="2.71"/><circle cx="447.24" cy="504.92" r="2.71"/><circle cx="448.08" cy="506.25" r="2.71"/><circle cx="448.91" cy="505.71" r="2.71"/><circle cx="449.75" cy="504.66" r="2.71"/><circle cx="450.58" cy="505.19" r="2.71"/><circle cx="451.42" cy="505.41" r="2.71"/><circle cx="452.25" cy="505.82" r="2.71"/><circle cx="453.09" cy="505.93" r="2.71"/><circle cx="453.92" cy="506.55" r="2.71"/><circle cx="454.75" cy="507.81" r="2.71"/><circle cx="455.59" cy="506.73" r="2.71"/><circle cx="456.42" cy="508.17" r="2.71"/><circle cx="457.26" cy="507.36" r="2.71"/><circle cx="458.09" cy="507.56" r="2.71"/><circle cx="458.93" cy="507.84" r="2.71"/><circle cx="459.76" cy="506.99" r="2.71"/><circle cx="460.6" cy="507.39" r="2.71"/><circle cx="461.43" cy="506.77" r="2.71"/><circle cx="462.27" cy="508.06" r="2.71"/><circle cx="463.1" cy="506.86" r="2.71"/><circle cx="463.94" cy="507.02" r="2.71"/><circle cx="464.77" cy="507.19" r="2.71"/><circle cx="465.6" cy="507.96" r="2.71"/><circle cx="466.44" cy="507.34" r="2.71"/><circle cx="467.27" cy="507.99" r="2.71"/><circle cx="468.11" cy="508.04" r="2.71"/><circle cx="468.94" cy="506.27" r="2.71"/><circle cx="469.78" cy="506.62" r="2.71"/><circle cx="470.61" cy="506.23" r="2.71"/><circle cx="471.45" cy="507.31" r="2.71"/><circle cx="472.28" cy="506.77" r="2.71"/><circle cx="473.12" cy="506.8" r="2.71"/><circle cx="473.95" cy="506.89" r="2.71"/><circle cx="474.78" cy="507.23" r="2.71"/><circle cx="475.62" cy="507.38" r="2.71"/><circle cx="476.45" cy="508.18" r="2.71"/><circle cx="477.29" cy="507.02" r="2.71"/><circle cx="478.12" cy="507.15" r="2.71"/><circle cx="478.96" cy="506.83" r="2.71"/><circle cx="479.79" cy="507.58" r="2.71"/><circle cx="480.63" cy="506.6" r="2.71"/><circle cx="406.35" cy="501.51" r="2.71"/><circle cx="407.18" cy="499.79" r="2.71"/><circle cx="408.02" cy="498.94" r="2.71"/><circle cx="408.85" cy="498.29" r="2.71"/><circle cx="409.69" cy="498.08" r="2.71"/><circle cx="410.52" cy="498.51" r="2.71"/><circle cx="411.36" cy="498.08" r="2.71"/><circle cx="412.19" cy="498.72" r="2.71"/><circle cx="413.03" cy="499.37" r="2.71"/><circle cx="413.86" cy="500.22" r="2.71"/></g>
<polyline class="sm" points="348.76,364.24 349.6,365.48 350.43,367.7 351.27,370.52 352.1,373.54 352.94,376.51 353.77,379.36 354.61,382.13 355.44,384.94 356.27,387.89 357.11,391.06 357.94,394.46 358.78,398.06 359.61,401.84 360.45,405.75 361.28,409.82 362.12,414.07 362.95,418.57 363.79,423.39 364.62,428.53 365.45,433.96 366.29,439.6 367.12,445.35 367.96,451.06 368.79,456.59 369.63,461.8 370.46,466.54 371.3,470.73 372.13,474.35 372.97,477.42 373.8,480.05 374.64,482.32 375.47,484.34 376.3,486.18 377.14,487.88 377.97,489.46 378.81,490.89 379.64,492.13 380.48,493.15 381.31,493.94 382.15,494.52 382.98,494.92 383.82,495.19 384.65,495.37 385.48,495.5 386.32,495.58 387.15,495.63 387.99,495.67 388.82,495.71 389.66,495.78 390.49,495.9 391.33,496.09 392.16,496.34 393,496.63 393.83,496.93 394.67,497.22 395.5,497.48 396.33,497.73 397.17,497.97 398,498.23 398.84,498.55 399.67,498.92 400.51,499.35 401.34,499.81 402.18,500.28 403.01,500.73 403.85,501.15 404.68,501.52 405.51,501.86 406.35,502.17 407.18,502.47 408.02,502.75 408.85,503.03 409.69,503.29 410.52,503.53 411.36,503.75 412.19,503.95 413.03,504.13 413.86,504.3 414.69,504.45 415.53,504.59 416.36,504.72 417.2,504.84 418.03,504.95 418.87,505.07 419.7,505.17 420.54,505.27 421.37,505.36 422.21,505.45 423.04,505.53 423.88,505.61 424.71,505.7 425.54,505.78 426.38,505.86 427.21,505.94 428.05,506 428.88,506.05 429.72,506.09 430.55,506.09 431.39,506.07 432.22,506.02 433.06,505.92 433.89,505.8 434.72,505.66 435.56,505.52 436.39,505.41 437.23,505.37 438.06,505.41 438.9,505.53 439.73,505.71 440.57,505.92 441.4,506.12 442.24,506.28 443.07,506.38 443.91,506.41 444.74,506.36 445.57,506.26 446.41,506.11 447.24,505.96 448.08,505.82 448.91,505.72 449.75,505.68 450.58,505.72 451.42,505.85 452.25,506.04 453.09,506.29 453.92,506.56 454.75,506.82 455.59,507.04 456.42,507.21 457.26,507.32 458.09,507.37 458.93,507.38 459.76,507.37 460.6,507.35 461.43,507.33 462.27,507.32 463.1,507.33 463.94,507.35 464.77,507.37 465.6,507.37 466.44,507.35 467.27,507.29 468.11,507.21 468.94,507.11 469.78,507.02 470.61,506.96 471.45,506.94 472.28,506.96 473.12,507.01 473.95,507.07 474.78,507.11 475.62,507.1 476.45,507.01 477.29,506.79 478.12,506.38 478.96,505.76 479.79,504.92 480.63,503.91 406.35,502.79 407.18,501.69 408.02,500.71 408.85,499.94 409.69,499.41 410.52,499.12 411.36,499.01 412.19,499.02 413.03,499.08 413.86,499.13"/>
</g>
<rect class="fr" x="342.17" y="337.06" width="145.05" height="179.24"/>
<line class="tk" x1="347.93" y1="516.3" x2="347.93" y2="520.09"/>
<text class="xl" x="347.93" y="532.65">0</text>
<line class="tk" x1="389.66" y1="516.3" x2="389.66" y2="520.09"/>
<text class="xl" x="389.66" y="532.65">50</text>
<line class="tk" x1="431.39" y1="516.3" x2="431.39" y2="520.09"/>
<text class="xl" x="431.39" y="532.65">100</text>
<line class="tk" x1="473.12" y1="516.3" x2="473.12" y2="520.09"/>
<text class="xl" x="473.12" y="532.65">150</text>
<line class="tk" x1="338.38" y1="483.5" x2="342.17" y2="483.5"/>
<text class="yl" x="334.58" y="487.85">1</text>
<line class="tk" x1="338.38" y1="440.62" x2="342.17" y2="440.62"/>
<text class="yl" x="334.58" y="444.97">2</text>
<line class="tk" x1="338.38" y1="397.73" x2="342.17" y2="397.73"/>
<text class="yl" x="334.58" y="402.09">3</text>
<line class="tk" x1="338.38" y1="354.85" x2="342.17" y2="354.85"/>
<text class="yl" x="334.58" y="359.2">4</text>
<text class="tt" x="414.69" y="329.76">val/cls_loss</text>
</g>
<g class="ax">
<g clip-path="url(#c7)">
<polyline class="ln" points="533.45,345.33 534.29,499.64 535.12,496.5 535.96,494.61 536.79,498.07 537.63,501.21 538.46,499.01 539.3,502.79 540.13,508.13 540.96,481.41 541.8,496.81 542.63,467.9 543.47,487.07 544.3,487.07 545.14,476.07 545.97,474.5 546.81,471.36 547.64,458.78 548.48,468.21 549.31,471.36 550.14,473.87 550.98,472.61 551.81,468.53 552.65,444.64 553.48,450.93 554.32,424.84 555.15,455.64 555.99,447.78 556.82,458.78 557.66,465.07 558.49,455.64 559.33,457.21 560.16,462.24 560.99,443.07 561.83,433.64 562.66,415.88 563.5,440.4 564.33,439.93 565.17,454.07 566,421.38 566.84,427.36 567.67,437.71 568.51,435.18 569.34,441.48 570.17,443.07 571.01,437.2 571.84,426 572.68,404.26 573.51,433.64 574.35,421.07 575.18,415.88 576.02,451.4 576.85,449.36 577.69,411.52 578.52,420.76 579.36,449.36 580.19,452.5 581.02,447.63 581.86,460.11 582.69,451.95 583.53,465.07 584.36,466.98 585.2,455.76 586.03,462.02 586.87,445.9 587.7,446.68 588.54,464.44 589.37,461.37 590.2,444.91 591.04,464.76 591.87,459.36 592.71,440.84 593.54,437.71 594.38,446.69 595.21,416.58 596.05,436.78 596.88,430.5 597.72,439.92 598.55,444.36 599.38,449.94 600.22,426.73 601.05,434.99 601.89,458.91 602.72,454.33 603.56,452.71 604.39,462.91 605.23,448.4 606.06,448.1 606.9,457.84 607.73,462.34 608.57,453.72 609.4,452.34 610.23,454.97 611.07,449.51 611.9,446.21 612.74,457.16 613.57,446.05 614.41,453.97 615.24,453.48 616.08,458.36 616.91,452.78 617.75,453.55 618.58,450.87 619.41,448.42 620.25,450.9 621.08,447.31 621.92,448.28 622.75,451.52 623.59,451.22 624.42,453.31 625.26,459.6 626.09,457.74 626.93,457.88 627.76,453.87 628.6,444.01 629.43,449.08 630.26,456.09 631.1,451.04 631.93,451.46 632.77,442.9 633.6,439.93 634.44,428.17 635.27,443.07 636.11,443.34 636.94,452.1 637.78,451.08 638.61,443.76 639.44,445.47 640.28,447.1 641.11,441.15 641.95,454.02 642.78,440.24 643.62,450.19 644.45,447.22 645.29,451.58 646.12,447.82 646.96,441.81 647.79,446.96 648.63,448.84 649.46,457.97 650.29,447.17 651.13,441.8 651.96,451.45 652.8,451.38 653.63,434.99 654.47,450.05 655.3,453.32 656.14,440.46 656.97,446.37 657.81,444.88 658.64,439.3 659.47,448.03 660.31,449.7 661.14,455.64 661.98,443.79 662.81,452.28 663.65,443.42 664.48,447.26 665.32,444.96 591.04,458.78 591.87,460.36 592.71,455.64 593.54,457.21 594.38,446.21 595.21,450.93 596.05,455.64 596.88,447.78 597.72,458.78 598.55,452.5"/>
<g class="mk"><circle cx="533.45" cy="345.33" r="2.71"/><circle cx="534.29" cy="499.64" r="2.71"/><circle cx="535.12" cy="496.5" r="2.71"/><circle cx="535.96" cy="494.61" r="2.71"/><circle cx="536.79" cy="498.07" r="2.71"/><circle cx="537.63" cy="501.21" r="2.71"/><circle cx="538.46" cy="499.01" r="2.71"/><circle cx="539.3" cy="502.79" r="2.71"/><circle cx="540.13" cy="508.13" r="2.71"/><circle cx="540.96" cy="481.41" r="2.71"/><circle cx="541.8" cy="496.81" r="2.71"/><circle cx="542.63" cy="467.9" r="2.71"/><circle cx="543.47" cy="487.07" r="2.71"/><circle cx="544.3" cy="487.07" r="2.71"/><circle cx="545.14" cy="476.07" r="2.71"/><circle cx="545.97" cy="474.5" r="2.71"/><circle cx="546.81" cy="471.36" r="2.71"/><circle cx="547.64" cy="458.78" r="2.71"/><circle cx="548.48" cy="468.21" r="2.71"/><circle cx="549.31" cy="471.36" r="2.71"/><circle cx="550.14" cy="473.87" r="2.71"/><circle cx="550.98" cy="472.61" r="2.71"/><circle cx="551.81" cy="468.53" r="2.71"/><circle cx="552.65" cy="444.64" r="2.71"/><circle cx="553.48" cy="450.93" r="2.71"/><circle cx="554.32" cy="424.84" r="2.71"/><circle cx="555.15" cy="455.64" r="2.71"/><circle cx="555.99" cy="447.78" r="2.71"/><circle cx="556.82" cy="458.78" r="2.71"/><circle cx="557.66" cy="465.07" r="2.71"/><circle cx="558.49" cy="455.64" r="2.71"/><circle cx="559.33" cy="457.21" r="2.71"/><circle cx="560.16" cy="462.24" r="2.71"/><circle cx="560.99" cy="443.07" r="2.71"/><circle cx="561.83" cy="433.64" r="2.71"/><circle cx="562.66" cy="415.88" r="2.71"/><circle cx="563.5" cy="440.4" r="2.71"/><circle cx="564.33" cy="439.93" r="2.71"/><circle cx="565.17" cy="454.07" r="2.71"/><circle cx="566" cy="421.38" r="2.71"/><circle cx="566.84" cy="427.36" r="2.71"/><circle cx="567.67" cy="437.71" r="2.71"/><circle cx="568.51" cy="435.18" r="2.71"/><circle cx="569.34" cy="441.48" r="2.71"/><circle cx="570.17" cy="443.07" r="2.71"/><circle cx="571.01" cy="437.2" r="2.71"/><circle cx="571.84" cy="426" r="2.71"/><circle cx="572.68" cy="404.26" r="2.71"/><circle cx="573.51" cy="433.64" r="2.71"/><circle cx="574.35" cy="421.07" r="2.71"/><circle cx="575.18" cy="415.88" r="2.71"/><circle cx="576.02" cy="451.4" r="2.71"/><circle cx="576.85" cy="449.36" r="2.71"/><circle cx="577.69" cy="411.52" r="2.71"/><circle cx="578.52" cy="420.76" r="2.71"/><circle cx="579.36" cy="449.36" r="2.71"/><circle cx="580.19" cy="452.5" r="2.71"/><circle cx="581.02" cy="447.63" r="2.71"/><circle cx="581.86" cy="460.11" r="2.71"/><circle cx="582.69" cy="451.95" r="2.71"/><circle cx="583.53" cy="465.07" r="2.71"/><circle cx="584.36" cy="466.98" r="2.71"/><circle cx="585.2" cy="455.76" r="2.71"/><circle cx="586.03" cy="462.02" r="2.71"/><circle cx="586.87" cy="445.9" r="2.71"/><circle cx="587.7" cy="446.68" r="2.71"/><circle cx="588.54" cy="464.44" r="2.71"/><circle cx="589.37" cy="461.37" r="2.71"/><circle cx="590.2" cy="444.91" r="2.71"/><circle cx="591.04" cy="464.76" r="2.71"/><circle cx="591.87" cy="459.36" r="2.71"/><circle cx="592.71" cy="440.84" r="2.71"/><circle cx="593.54" cy="437.71" r="2.71"/><circle cx="594.38" cy="446.69" r="2.71"/><circle cx="595.21" cy="416.58" r="2.71"/><circle cx="596.05" cy="436.78" r="2.71"/><circle cx="596.88" cy="430.5" r="2.71"/><circle cx="597.72" cy="439.92" r="2.71"/><circle cx="598.55" cy="444.36" r="2.71"/><circle cx="599.38" cy="449.94" r="2.71"/><circle cx="600.22" cy="426.73" r="2.71"/><circle cx="601.05" cy="434.99" r="2.71"/><circle cx="601.89" cy="458.91" r="2.71"/><circle cx="602.72" cy="454.33" r="2.71"/><circle cx="603.56" cy="452.71" r="2.71"/><circle cx="604.39" cy="462.91" r="2.71"/><circle cx="605.23" cy="448.4" r="2.71"/><circle cx="606.06" cy="448.1" r="2.71"/><circle cx="606.9" cy="457.84" r="2.71"/><circle cx="607.73" cy="462.34" r="2.71"/><circle cx="608.57" cy="453.72" r="2.71"/><circle cx="609.4" cy="452.34" r="2.71"/><circle cx="610.23" cy="454.97" r="2.71"/><circle cx="611.07" cy="449.51" r="2.71"/><circle cx="611.9" cy="446.21" r="2.71"/><circle cx="612.74" cy="457.16" r="2.71"/><circle cx="613.57" cy="446.05" r="2.71"/><circle cx="614.41" cy="453.97" r="2.71"/><circle cx="615.24" cy="453.48" r="2.71"/><circle cx="616.08" cy="458.36" r="2.71"/><circle cx="616.91" cy="452.78" r="2.71"/><circle cx="617.75" cy="453.55" r="2.71"/><circle cx="618.58" cy="450.87" r="2.71"/><circle cx="619.41" cy="448.42" r="2.71"/><circle cx="620.25" cy="450.9" r="2.71"/><circle cx="621.08" cy="447.31" r="2.71"/><circle cx="621.92" cy="448.28" r="2.71"/><circle cx="622.75" cy="451.52" r="2.71"/><circle cx="623.59" cy="451.22" r="2.71"/><circle cx="624.42" cy="453.31" r="2.71"/><circle cx="625.26" cy="459.6" r="2.71"/><circle cx="626.09" cy="457.74" r="2.71"/><circle cx="626.93" cy="457.88" r="2.71"/><circle cx="627.76" cy="453.87" r="2.71"/><circle cx="628.6" cy="444.01" r="2.71"/><circle cx="629.43" cy="449.08" r="2.71"/><circle cx="630.26" cy="456.09" r="2.71"/><circle cx="631.1" cy="451.04" r="2.71"/><circle cx="631.93" cy="451.46" r="2.71"/><circle cx="632.77" cy="442.9" r="2.71"/><circle cx="633.6" cy="439.93" r="2.71"/><circle cx="634.44" cy="428.17" r="2.71"/><circle cx="635.27" cy="443.07" r="2.71"/><circle cx="636.11" cy="443.34" r="2.71"/><circle cx="636.94" cy="452.1" r="2.71"/><circle cx="637.78" cy="451.08" r="2.71"/><circle cx="638.61" cy="443.76" r="2.71"/><circle cx="639.44" cy="445.47" r="2.71"/><circle cx="640.28" cy="447.1" r="2.71"/><circle cx="641.11" cy="441.15" r="2.71"/><circle cx="641.95" cy="454.02" r="2.71"/><circle cx="642.78" cy="440.24" r="2.71"/><circle cx="643.62" cy="450.19" r="2.71"/><circle cx="644.45" cy="447.22" r="2.71"/><circle cx="645.29" cy="451.58" r="2.71"/><circle cx="646.12" cy="447.82" r="2.71"/><circle cx="646.96" cy="441.81" r="2.71"/><circle cx="647.79" cy="446.96" r="2.71"/><circle cx="648.63" cy="448.84" r="2.71"/><circle cx="649.46" cy="457.97" r="2.71"/><circle cx="650.29" cy="447.17" r="2.71"/><circle cx="651.13" cy="441.8" r="2.71"/><circle cx="651.96" cy="451.45" r="2.71"/><circle cx="652.8" cy="451.38" r="2.71"/><circle cx="653.63" cy="434.99" r="2.71"/><circle cx="654.47" cy="450.05" r="2.71"/><circle cx="655.3" cy="453.32" r="2.71"/><circle cx="656.14" cy="440.46" r="2.71"/><circle cx="656.97" cy="446.37" r="2.71"/><circle cx="657.81" cy="444.88" r="2.71"/><circle cx="658.64" cy="439.3" r="2.71"/><circle cx="659.47" cy="448.03" r="2.71"/><circle cx="660.31" cy="449.7" r="2.71"/><circle cx="661.14" cy="455.64" r="2.71"/><circle cx="661.98" cy="443.79" r="2.71"/><circle cx="662.81" cy="452.28" r="2.71"/><circle cx="663.65" cy="443.42" r="2.71"/><circle cx="664.48" cy="447.26" r="2.71"/><circle cx="665.32" cy="444.96" r="2.71"/><circle cx="591.04" cy="458.78" r="2.71"/><circle cx="591.87" cy="460.36" r="2.71"/><circle cx="592.71" cy="455.64" r="2.71"/><circle cx="593.54" cy="457.21" r="2.71"/><circle cx="594.38" cy="446.21" r="2.71"/><circle cx="595.21" cy="450.93" r="2.71"/><circle cx="596.05" cy="455.64" r="2.71"/><circle cx="596.88" cy="447.78" r="2.71"/><circle cx="597.72" cy="458.78" r="2.71"/><circle cx="598.55" cy="452.5" r="2.71"/></g>
<polyline class="sm" points="533.45,458.4 534.29,462.49 535.12,469.47 535.96,477.46 536.79,484.7 537.63,490.02 538.46,493.01 539.3,493.85 540.13,493.01 540.96,491.04 541.8,488.45 542.63,485.61 543.47,482.76 544.3,479.99 545.14,477.38 545.97,474.98 546.81,472.84 547.64,470.96 548.48,469.23 549.31,467.4 550.14,465.23 550.98,462.58 551.81,459.59 552.65,456.65 553.48,454.23 554.32,452.71 555.15,452.19 555.99,452.41 556.82,452.87 557.66,452.98 558.49,452.29 559.33,450.63 560.16,448.14 560.99,445.21 561.83,442.33 562.66,439.9 563.5,438.11 564.33,436.93 565.17,436.2 566,435.77 566.84,435.49 567.67,435.21 568.51,434.76 569.34,433.96 570.17,432.75 571.01,431.26 571.84,429.78 572.68,428.71 573.51,428.33 574.35,428.73 575.18,429.83 576.02,431.44 576.85,433.46 577.69,435.88 578.52,438.75 579.36,442.03 580.19,445.55 581.02,449.02 581.86,452.1 582.69,454.51 583.53,456.11 584.36,456.9 585.2,457.03 586.03,456.74 586.87,456.25 587.7,455.72 588.54,455.11 589.37,454.29 590.2,453.04 591.04,451.2 591.87,448.78 592.71,445.96 593.54,443.09 594.38,440.58 595.21,438.78 596.05,437.87 596.88,437.83 597.72,438.52 598.55,439.75 599.38,441.37 600.22,443.29 601.05,445.4 601.89,447.56 602.72,449.59 603.56,451.31 604.39,452.62 605.23,453.52 606.06,454.06 606.9,454.28 607.73,454.24 608.57,453.96 609.4,453.51 610.23,452.99 611.07,452.54 611.9,452.25 612.74,452.18 613.57,452.3 614.41,452.5 615.24,452.66 616.08,452.66 616.91,452.46 617.75,452.06 618.58,451.57 619.41,451.13 620.25,450.87 621.08,450.89 621.92,451.23 622.75,451.83 623.59,452.55 624.42,453.22 625.26,453.65 626.09,453.72 626.93,453.41 627.76,452.76 628.6,451.87 629.43,450.78 630.26,449.53 631.1,448.12 631.93,446.64 632.77,445.27 633.6,444.24 634.44,443.71 635.27,443.74 636.11,444.2 636.94,444.85 637.78,445.47 638.61,445.94 639.44,446.23 640.28,446.42 641.11,446.58 641.95,446.77 642.78,446.99 643.62,447.21 644.45,447.41 645.29,447.59 646.12,447.76 646.96,447.93 647.79,448.1 648.63,448.22 649.46,448.23 650.29,448.09 651.13,447.82 651.96,447.46 652.8,447.08 653.63,446.72 654.47,446.4 655.3,446.14 656.14,445.98 656.97,445.96 657.81,446.12 658.64,446.46 659.47,446.94 660.31,447.47 661.14,447.97 661.98,448.43 662.81,448.93 663.65,449.55 664.48,450.34 665.32,451.25 591.04,452.13 591.87,452.83 592.71,453.23 593.54,453.35 594.38,453.27 595.21,453.15 596.05,453.09 596.88,453.12 597.72,453.19 598.55,453.26"/>
</g>
<rect class="fr" x="526.86" y="337.06" width="145.05" height="179.24"/>
<line class="tk" x1="532.62" y1="516.3" x2="532.62" y2="520.09"/>
<text class="xl" x="532.62" y="532.65">0</text>
<line class="tk" x1="574.35" y1="516.3" x2="574.35" y2="520.09"/>
<text class="xl" x="574.35" y="532.65">50</text>
<line class="tk" x1="616.08" y1="516.3" x2="616.08" y2="520.09"/>
<text class="xl" x="616.08" y="532.65">100</text>
<line class="tk" x1="657.81" y1="516.3" x2="657.81" y2="520.09"/>
<text class="xl" x="657.81" y="532.65">150</text>
<line class="tk" x1="523.07" y1="487.07" x2="526.86" y2="487.07"/>
<text class="yl" x="519.27" y="491.42">1.0</text>
<line class="tk" x1="523.07" y1="455.64" x2="526.86" y2="455.64"/>
<text class="yl" x="519.27" y="459.99">1.1</text>
<line class="tk" x1="523.07" y1="424.21" x2="526.86" y2="424.21"/>
<text class="yl" x="519.27" y="428.56">1.2</text>
<line class="tk" x1="523.07" y1="392.78" x2="526.86" y2="392.78"/>
<text class="yl" x="519.27" y="397.13">1.3</text>
<line class="tk" x1="523.07" y1="361.35" x2="526.86" y2="361.35"/>
<text class="yl" x="519.27" y="365.71">1.4</text>
<text class="tt" x="599.38" y="329.76">val/dfl_loss</text>
</g>
<g class="ax">
<g clip-path="url(#c8)">
<polyline class="ln" points="718.14,508.16 718.98,507.19 719.81,506.04 720.65,460.08 721.48,505.55 722.32,505.55 723.15,505.22 723.99,488.15 724.82,505.88 725.65,423.15 726.49,377.19 727.32,368.16 728.16,348.71 728.99,345.18 729.83,345.18 730.66,345.68 731.5,346.66 732.33,372.1 733.17,346.01 734,346.83 734.83,346.01 735.67,346.33 736.5,346.01 737.34,346.83 738.17,348.47 739.01,350.77 739.84,346.83 740.68,345.68 741.51,345.23 742.35,345.29 743.18,345.28 744.02,345.28 744.85,345.44 745.68,345.21 746.52,345.23 747.35,345.26 748.19,345.31 749.02,345.51 749.86,345.38 750.69,345.2 751.53,345.27 752.36,345.24 753.2,345.21 754.03,345.19 754.86,345.26 755.7,345.31 756.53,345.41 757.37,345.37 758.2,345.2 759.04,345.25 759.87,345.25 760.71,345.28 761.54,345.5 762.38,345.26 763.21,345.51 764.05,345.24 764.88,345.23 765.71,345.36 766.55,345.19 767.38,345.25 768.22,345.22 769.05,345.26 769.89,345.21 770.72,345.29 771.56,345.45 772.39,345.21 773.23,345.47 774.06,345.63 774.89,345.19 775.73,345.28 776.56,345.23 777.4,345.36 778.23,345.29 779.07,345.23 779.9,345.26 780.74,345.65 781.57,345.23 782.41,345.23 783.24,345.26 784.07,345.21 784.91,345.4 785.74,345.22 786.58,345.59 787.41,345.36 788.25,345.29 789.08,345.37 789.92,345.49 790.75,345.28 791.59,345.52 792.42,345.36 793.26,345.21 794.09,345.47 794.92,345.57 795.76,345.28 796.59,345.23 797.43,345.33 798.26,345.21 799.1,345.29 799.93,345.29 800.77,345.63 801.6,345.29 802.44,345.19 803.27,345.4 804.1,345.22 804.94,345.33 805.77,345.24 806.61,345.45 807.44,346.01 808.28,347.32 809.11,345.2 809.95,345.37 810.78,345.36 811.62,345.33 812.45,345.45 813.29,345.27 814.12,345.3 814.95,345.2 815.79,345.33 816.62,345.49 817.46,345.2 818.29,345.29 819.13,345.23 819.96,345.19 820.8,345.29 821.63,345.32 822.47,345.49 823.3,345.57 824.13,345.22 824.97,345.19 825.8,345.23 826.64,345.39 827.47,345.5 828.31,345.38 829.14,345.29 829.98,345.36 830.81,345.37 831.65,345.45 832.48,345.24 833.32,345.38 834.15,345.43 834.98,345.33 835.82,345.35 836.65,345.35 837.49,345.29 838.32,345.41 839.16,345.32 839.99,345.43 840.83,345.19 841.66,345.25 842.5,345.29 843.33,345.45 844.16,345.22 845,345.26 845.83,345.33 846.67,345.19 847.5,345.21 848.34,345.56 849.17,345.23 850.01,345.48 775.73,345.68 776.56,345.51 777.4,346.01 778.23,345.68 779.07,345.84 779.9,345.51 780.74,346.01 781.57,345.68 782.41,345.51 783.24,345.68"/>
<g class="mk"><circle cx="718.14" cy="508.16" r="2.71"/><circle cx="718.98" cy="507.19" r="2.71"/><circle cx="719.81" cy="506.04" r="2.71"/><circle cx="720.65" cy="460.08" r="2.71"/><circle cx="721.48" cy="505.55" r="2.71"/><circle cx="722.32" cy="505.55" r="2.71"/><circle cx="723.15" cy="505.22" r="2.71"/><circle cx="723.99" cy="488.15" r="2.71"/><circle cx="724.82" cy="505.88" r="2.71"/><circle cx="725.65" cy="423.15" r="2.71"/><circle cx="726.49" cy="377.19" r="2.71"/><circle cx="727.32" cy="368.16" r="2.71"/><circle cx="728.16" cy="348.71" r="2.71"/><circle cx="728.99" cy="345.18" r="2.71"/><circle cx="729.83" cy="345.18" r="2.71"/><circle cx="730.66" cy="345.68" r="2.71"/><circle cx="731.5" cy="346.66" r="2.71"/><circle cx="732.33" cy="372.1" r="2.71"/><circle cx="733.17" cy="346.01" r="2.71"/><circle cx="734" cy="346.83" r="2.71"/><circle cx="734.83" cy="346.01" r="2.71"/><circle cx="735.67" cy="346.33" r="2.71"/><circle cx="736.5" cy="346.01" r="2.71"/><circle cx="737.34" cy="346.83" r="2.71"/><circle cx="738.17" cy="348.47" r="2.71"/><circle cx="739.01" cy="350.77" r="2.71"/><circle cx="739.84" cy="346.83" r="2.71"/><circle cx="740.68" cy="345.68" r="2.71"/><circle cx="741.51" cy="345.23" r="2.71"/><circle cx="742.35" cy="345.29" r="2.71"/><circle cx="743.18" cy="345.28" r="2.71"/><circle cx="744.02" cy="345.28" r="2.71"/><circle cx="744.85" cy="345.44" r="2.71"/><circle cx="745.68" cy="345.21" r="2.71"/><circle cx="746.52" cy="345.23" r="2.71"/><circle cx="747.35" cy="345.26" r="2.71"/><circle cx="748.19" cy="345.31" r="2.71"/><circle cx="749.02" cy="345.51" r="2.71"/><circle cx="749.86" cy="345.38" r="2.71"/><circle cx="750.69" cy="345.2" r="2.71"/><circle cx="751.53" cy="345.27" r="2.71"/><circle cx="752.36" cy="345.24" r="2.71"/><circle cx="753.2" cy="345.21" r="2.71"/><circle cx="754.03" cy="345.19" r="2.71"/><circle cx="754.86" cy="345.26" r="2.71"/><circle cx="755.7" cy="345.31" r="2.71"/><circle cx="756.53" cy="345.41" r="2.71"/><circle cx="757.37" cy="345.37" r="2.71"/><circle cx="758.2" cy="345.2" r="2.71"/><circle cx="759.04" cy="345.25" r="2.71"/><circle cx="759.87" cy="345.25" r="2.71"/><circle cx="760.71" cy="345.28" r="2.71"/><circle cx="761.54" cy="345.5" r="2.71"/><circle cx="762.38" cy="345.26" r="2.71"/><circle cx="763.21" cy="345.51" r="2.71"/><circle cx="764.05" cy="345.24" r="2.71"/><circle cx="764.88" cy="345.23" r="2.71"/><circle cx="765.71" cy="345.36" r="2.71"/><circle cx="766.55" cy="345.19" r="2.71"/><circle cx="767.38" cy="345.25" r="2.71"/><circle cx="768.22" cy="345.22" r="2.71"/><circle cx="769.05" cy="345.26" r="2.71"/><circle cx="769.89" cy="345.21" r="2.71"/><circle cx="770.72" cy="345.29" r="2.71"/><circle cx="771.56" cy="345.45" r="2.71"/><circle cx="772.39" cy="345.21" r="2.71"/><circle cx="773.23" cy="345.47" r="2.71"/><circle cx="774.06" cy="345.63" r="2.71"/><circle cx="774.89" cy="345.19" r="2.71"/><circle cx="775.73" cy="345.28" r="2.71"/><circle cx="776.56" cy="345.23" r="2.71"/><circle cx="777.4" cy="345.36" r="2.71"/><circle cx="778.23" cy="345.29" r="2.71"/><circle cx="779.07" cy="345.23" r="2.71"/><circle cx="779.9" cy="345.26" r="2.71"/><circle cx="780.74" cy="345.65" r="2.71"/><circle cx="781.57" cy="345.23" r="2.71"/><circle cx="782.41" cy="345.23" r="2.71"/><circle cx="783.24" cy="345.26" r="2.71"/><circle cx="784.07" cy="345.21" r="2.71"/><circle cx="784.91" cy="345.4" r="2.71"/><circle cx="785.74" cy="345.22" r="2.71"/><circle cx="786.58" cy="345.59" r="2.71"/><circle cx="787.41" cy="345.36" r="2.71"/><circle cx="788.25" cy="345.29" r="2.71"/><circle cx="789.08" cy="345.37" r="2.71"/><circle cx="789.92" cy="345.49" r="2.71"/><circle cx="790.75" cy="345.28" r="2.71"/><circle cx="791.59" cy="345.52" r="2.71"/><circle cx="792.42" cy="345.36" r="2.71"/><circle cx="793.26" cy="345.21" r="2.71"/><circle cx="794.09" cy="345.47" r="2.71"/><circle cx="794.92" cy="345.57" r="2.71"/><circle cx="795.76" cy="345.28" r="2.71"/><circle cx="796.59" cy="345.23" r="2.71"/><circle cx="797.43" cy="345.33" r="2.71"/><circle cx="798.26" cy="345.21" r="2.71"/><circle cx="799.1" cy="345.29" r="2.71"/><circle cx="799.93" cy="345.29" r="2.71"/><circle cx="800.77" cy="345.63" r="2.71"/><circle cx="801.6" cy="345.29" r="2.71"/><circle cx="802.44" cy="345.19" r="2.71"/><circle cx="803.27" cy="345.4" r="2.71"/><circle cx="804.1" cy="345.22" r="2.71"/><circle cx="804.94" cy="345.33" r="2.71"/><circle cx="805.77" cy="345.24" r="2.71"/><circle cx="806.61" cy="345.45" r="2.71"/><circle cx="807.44" cy="346.01" r="2.71"/><circle cx="808.28" cy="347.32" r="2.71"/><circle cx="809.11" cy="345.2" r="2.71"/><circle cx="809.95" cy="345.37" r="2.71"/><circle cx="810.78" cy="345.36" r="2.71"/><circle cx="811.62" cy="345.33" r="2.71"/><circle cx="812.45" cy="345.45" r="2.71"/><circle cx="813.29" cy="345.27" r="2.71"/><circle cx="814.12" cy="345.3" r="2.71"/><circle cx="814.95" cy="345.2" r="2.71"/><circle cx="815.79" cy="345.33" r="2.71"/><circle cx="816.62" cy="345.49" r="2.71"/><circle cx="817.46" cy="345.2" r="2.71"/><circle cx="818.29" cy="345.29" r="2.71"/><circle cx="819.13" cy="345.23" r="2.71"/><circle cx="819.96" cy="345.19" r="2.71"/><circle cx="820.8" cy="345.29" r="2.71"/><circle cx="821.63" cy="345.32" r="2.71"/><circle cx="822.47" cy="345.49" r="2.71"/><circle cx="823.3" cy="345.57" r="2.71"/><circle cx="824.13" cy="345.22" r="2.71"/><circle cx="824.97" cy="345.19" r="2.71"/><circle cx="825.8" cy="345.23" r="2.71"/><circle cx="826.64" cy="345.39" r="2.71"/><circle cx="827.47" cy="345.5" r="2.71"/><circle cx="828.31" cy="345.38" r="2.71"/><circle cx="829.14" cy="345.29" r="2.71"/><circle cx="829.98" cy="345.36" r="2.71"/><circle cx="830.81" cy="345.37" r="2.71"/><circle cx="831.65" cy="345.45" r="2.71"/><circle cx="832.48" cy="345.24" r="2.71"/><circle cx="833.32" cy="345.38" r="2.71"/><circle cx="834.15" cy="345.43" r="2.71"/><circle cx="834.98" cy="345.33" r="2.71"/><circle cx="835.82" cy="345.35" r="2.71"/><circle cx="836.65" cy="345.35" r="2.71"/><circle cx="837.49" cy="345.29" r="2.71"/><circle cx="838.32" cy="345.41" r="2.71"/><circle cx="839.16" cy="345.32" r="2.71"/><circle cx="839.99" cy="345.43" r="2.71"/><circle cx="840.83" cy="345.19" r="2.71"/><circle cx="841.66" cy="345.25" r="2.71"/><circle cx="842.5" cy="345.29" r="2.71"/><circle cx="843.33" cy="345.45" r="2.71"/><circle cx="844.16" cy="345.22" r="2.71"/><circle cx="845" cy="345.26" r="2.71"/><circle cx="845.83" cy="345.33" r="2.71"/><circle cx="846.67" cy="345.19" r="2.71"/><circle cx="847.5" cy="345.21" r="2.71"/><circle cx="848.34" cy="345.56" r="2.71"/><circle cx="849.17" cy="345.23" r="2.71"/><circle cx="850.01" cy="345.48" r="2.71"/><circle cx="775.73" cy="345.68" r="2.71"/><circle cx="776.56" cy="345.51" r="2.71"/><circle cx="777.4" cy="346.01" r="2.71"/><circle cx="778.23" cy="345.68" r="2.71"/><circle cx="779.07" cy="345.84" r="2.71"/><circle cx="779.9" cy="345.51" r="2.71"/><circle cx="780.74" cy="346.01" r="2.71"/><circle cx="781.57" cy="345.68" r="2.71"/><circle cx="782.41" cy="345.51" r="2.71"/><circle cx="783.24" cy="345.68" r="2.71"/></g>
<polyline class="sm" points="718.14,500.03 718.98,499.27 719.81,497.75 720.65,495.31 721.48,491.49 722.32,485.49 723.15,476.42 723.99,463.75 724.82,447.69 725.65,429.32 726.49,410.37 727.32,392.75 728.16,377.99 728.99,366.87 729.83,359.37 730.66,354.83 731.5,352.33 732.33,350.97 733.17,350.09 734,349.36 734.83,348.7 735.67,348.15 736.5,347.75 737.34,347.48 738.17,347.29 739.01,347.09 739.84,346.83 740.68,346.52 741.51,346.19 742.35,345.9 743.18,345.66 744.02,345.5 744.85,345.4 745.68,345.34 746.52,345.32 747.35,345.31 748.19,345.31 749.02,345.31 749.86,345.3 750.69,345.29 751.53,345.28 752.36,345.27 753.2,345.27 754.03,345.27 754.86,345.28 755.7,345.28 756.53,345.29 757.37,345.3 758.2,345.3 759.04,345.3 759.87,345.31 760.71,345.32 761.54,345.32 762.38,345.32 763.21,345.32 764.05,345.31 764.88,345.3 765.71,345.28 766.55,345.27 767.38,345.27 768.22,345.27 769.05,345.28 769.89,345.29 770.72,345.31 771.56,345.32 772.39,345.34 773.23,345.34 774.06,345.34 774.89,345.34 775.73,345.33 776.56,345.32 777.4,345.31 778.23,345.31 779.07,345.31 779.9,345.31 780.74,345.31 781.57,345.31 782.41,345.31 783.24,345.31 784.07,345.32 784.91,345.33 785.74,345.34 786.58,345.35 787.41,345.37 788.25,345.37 789.08,345.38 789.92,345.38 790.75,345.38 791.59,345.38 792.42,345.38 793.26,345.38 794.09,345.37 794.92,345.36 795.76,345.35 796.59,345.34 797.43,345.33 798.26,345.33 799.1,345.33 799.93,345.33 800.77,345.33 801.6,345.34 802.44,345.35 803.27,345.38 804.1,345.42 804.94,345.48 805.77,345.55 806.61,345.62 807.44,345.66 808.28,345.68 809.11,345.65 809.95,345.6 810.78,345.53 811.62,345.46 812.45,345.41 813.29,345.36 814.12,345.34 814.95,345.32 815.79,345.31 816.62,345.3 817.46,345.3 818.29,345.29 819.13,345.3 819.96,345.3 820.8,345.31 821.63,345.32 822.47,345.33 823.3,345.34 824.13,345.34 824.97,345.34 825.8,345.34 826.64,345.35 827.47,345.35 828.31,345.36 829.14,345.36 829.98,345.36 830.81,345.36 831.65,345.36 832.48,345.36 833.32,345.36 834.15,345.36 834.98,345.36 835.82,345.35 836.65,345.35 837.49,345.34 838.32,345.34 839.16,345.33 839.99,345.32 840.83,345.32 841.66,345.31 842.5,345.3 843.33,345.3 844.16,345.3 845,345.3 845.83,345.31 846.67,345.33 847.5,345.36 848.34,345.4 849.17,345.45 850.01,345.51"/>
<polyline class="sm" stroke-dashoffset="2.3" points="850.01,345.51 775.73,345.56 776.56,345.62 777.4,345.66 778.23,345.69 779.07,345.71 779.9,345.71 780.74,345.71 781.57,345.7 782.41,345.69 783.24,345.68"/>
</g>
<rect class="fr" x="711.55" y="337.06" width="145.05" height="179.24"/>
<line class="tk" x1="717.31" y1="516.3" x2="717.31" y2="520.09"/>
<text class="xl" x="717.31" y="532.65">0</text>
<line class="tk" x1="759.04" y1="516.3" x2="759.04" y2="520.09"/>
<text class="xl" x="759.04" y="532.65">50</text>
<line class="tk" x1="800.77" y1="516.3" x2="800.77" y2="520.09"/>
<text class="xl" x="800.77" y="532.65">100</text>
<line class="tk" x1="842.5" y1="516.3" x2="842.5" y2="520.09"/>
<text class="xl" x="842.5" y="532.65">150</text>
<line class="tk" x1="707.76" y1="508.5" x2="711.55" y2="508.5"/>
<text class="yl" x="703.96" y="512.85">0.0</text>
<line class="tk" x1="707.76" y1="475.68" x2="711.55" y2="475.68"/>
<text class="yl" x="703.96" y="480.03">0.2</text>
<line class="tk" x1="707.76" y1="442.85" x2="711.55" y2="442.85"/>
<text class="yl" x="703.96" y="447.2">0.4</text>
<line class="tk" x1="707.76" y1="410.02" x2="711.55" y2="410.02"/>
<text class="yl" x="703.96" y="414.37">0.6</text>
<line class="tk" x1="707.76" y1="377.19" x2="711.55" y2="377.19"/>
<text class="yl" x="703.96" y="381.54">0.8</text>
<line class="tk" x1="707.76" y1="344.36" x2="711.55" y2="344.36"/>
<text class="yl" x="703.96" y="348.72">1.0</text>
<text class="tt" x="784.07" y="329.76">metrics/mAP50(B)</text>
</g>
<g class="ax">
<g clip-path="url(#c9)">
<polyline class="ln" points="902.83,508.16 903.67,507.06 904.5,506.02 905.34,467.24 906.17,505.7 907.01,505.7 907.84,505.7 908.68,490.72 909.51,505.61 910.34,430.48 911.18,387.78 912.01,390.11 912.85,358.46 913.68,355.27 914.52,355.27 915.35,355.91 916.19,359.52 917.02,378.43 917.86,359.52 918.69,358.46 919.52,361.82 920.36,358.86 921.19,358.08 922.03,353.14 922.86,353.42 923.7,365.89 924.53,361.64 925.37,358.4 926.2,350.81 927.04,357.92 927.87,355.73 928.71,352.41 929.54,349.74 930.37,357.75 931.21,357 932.04,353.1 932.88,351.72 933.71,354.19 934.55,361.64 935.38,364.62 936.22,358.54 937.05,352.51 937.89,358.7 938.72,355.42 939.55,355.61 940.39,353.6 941.22,356.35 942.06,371.06 942.89,359.52 943.73,354.2 944.56,354.49 945.4,360.13 946.23,349.74 947.07,355.72 947.9,371.63 948.74,364.62 949.57,358.67 950.4,353.42 951.24,352.98 952.07,352.92 952.91,349.21 953.74,351.74 954.58,351.74 955.41,355.91 956.25,349.29 957.08,350.77 957.92,345.07 958.75,346.77 959.58,346.49 960.42,345.28 961.25,345.5 962.09,347.15 962.92,345.5 963.76,348.19 964.59,347.01 965.43,348.6 966.26,350.43 967.1,348.16 967.93,347.31 968.76,349.48 969.6,350.76 970.43,349.75 971.27,351.64 972.1,345.71 972.94,350.39 973.77,345.58 974.61,349.34 975.44,350.91 976.28,346.72 977.11,345.07 977.95,347.93 978.78,347.6 979.61,347.48 980.45,348.8 981.28,346.87 982.12,347.94 982.95,346.34 983.79,349.78 984.62,351.43 985.46,355.91 986.29,348.81 987.13,349.02 987.96,349.14 988.79,350.47 989.63,347.63 990.46,350.73 991.3,350.13 992.13,350.56 992.97,349.66 993.8,350.01 994.64,346.34 995.47,348.48 996.31,352.02 997.14,349.99 997.98,354.42 998.81,347.95 999.64,347.21 1000.48,350.41 1001.31,346.98 1002.15,350.2 1002.98,349.25 1003.82,347.15 1004.65,357.18 1005.49,352.33 1006.32,349.11 1007.16,349.41 1007.99,346.13 1008.82,348.15 1009.66,350.85 1010.49,352.39 1011.33,353.78 1012.16,349.8 1013,351.06 1013.83,350.9 1014.67,346.9 1015.5,348.41 1016.34,348.11 1017.17,346.13 1018.01,349.78 1018.84,350.94 1019.67,350.88 1020.51,351.7 1021.34,350.72 1022.18,352.14 1023.01,350.95 1023.85,356.54 1024.68,350.72 1025.52,349.26 1026.35,347.76 1027.19,347.28 1028.02,349.52 1028.85,349.22 1029.69,346.34 1030.52,347.6 1031.36,346.57 1032.19,350.04 1033.03,347.6 1033.86,349.24 1034.7,348.13 960.42,353.14 961.25,355.27 962.09,357.39 962.92,359.52 963.76,358.46 964.59,361.64 965.43,367.59 966.26,363.77 967.1,359.52 967.93,358.46"/>
<g class="mk"><circle cx="902.83" cy="508.16" r="2.71"/><circle cx="903.67" cy="507.06" r="2.71"/><circle cx="904.5" cy="506.02" r="2.71"/><circle cx="905.34" cy="467.24" r="2.71"/><circle cx="906.17" cy="505.7" r="2.71"/><circle cx="907.01" cy="505.7" r="2.71"/><circle cx="907.84" cy="505.7" r="2.71"/><circle cx="908.68" cy="490.72" r="2.71"/><circle cx="909.51" cy="505.61" r="2.71"/><circle cx="910.34" cy="430.48" r="2.71"/><circle cx="911.18" cy="387.78" r="2.71"/><circle cx="912.01" cy="390.11" r="2.71"/><circle cx="912.85" cy="358.46" r="2.71"/><circle cx="913.68" cy="355.27" r="2.71"/><circle cx="914.52" cy="355.27" r="2.71"/><circle cx="915.35" cy="355.91" r="2.71"/><circle cx="916.19" cy="359.52" r="2.71"/><circle cx="917.02" cy="378.43" r="2.71"/><circle cx="917.86" cy="359.52" r="2.71"/><circle cx="918.69" cy="358.46" r="2.71"/><circle cx="919.52" cy="361.82" r="2.71"/><circle cx="920.36" cy="358.86" r="2.71"/><circle cx="921.19" cy="358.08" r="2.71"/><circle cx="922.03" cy="353.14" r="2.71"/><circle cx="922.86" cy="353.42" r="2.71"/><circle cx="923.7" cy="365.89" r="2.71"/><circle cx="924.53" cy="361.64" r="2.71"/><circle cx="925.37" cy="358.4" r="2.71"/><circle cx="926.2" cy="350.81" r="2.71"/><circle cx="927.04" cy="357.92" r="2.71"/><circle cx="927.87" cy="355.73" r="2.71"/><circle cx="928.71" cy="352.41" r="2.71"/><circle cx="929.54" cy="349.74" r="2.71"/><circle cx="930.37" cy="357.75" r="2.71"/><circle cx="931.21" cy="357" r="2.71"/><circle cx="932.04" cy="353.1" r="2.71"/><circle cx="932.88" cy="351.72" r="2.71"/><circle cx="933.71" cy="354.19" r="2.71"/><circle cx="934.55" cy="361.64" r="2.71"/><circle cx="935.38" cy="364.62" r="2.71"/><circle cx="936.22" cy="358.54" r="2.71"/><circle cx="937.05" cy="352.51" r="2.71"/><circle cx="937.89" cy="358.7" r="2.71"/><circle cx="938.72" cy="355.42" r="2.71"/><circle cx="939.55" cy="355.61" r="2.71"/><circle cx="940.39" cy="353.6" r="2.71"/><circle cx="941.22" cy="356.35" r="2.71"/><circle cx="942.06" cy="371.06" r="2.71"/><circle cx="942.89" cy="359.52" r="2.71"/><circle cx="943.73" cy="354.2" r="2.71"/><circle cx="944.56" cy="354.49" r="2.71"/><circle cx="945.4" cy="360.13" r="2.71"/><circle cx="946.23" cy="349.74" r="2.71"/><circle cx="947.07" cy="355.72" r="2.71"/><circle cx="947.9" cy="371.63" r="2.71"/><circle cx="948.74" cy="364.62" r="2.71"/><circle cx="949.57" cy="358.67" r="2.71"/><circle cx="950.4" cy="353.42" r="2.71"/><circle cx="951.24" cy="352.98" r="2.71"/><circle cx="952.07" cy="352.92" r="2.71"/><circle cx="952.91" cy="349.21" r="2.71"/><circle cx="953.74" cy="351.74" r="2.71"/><circle cx="954.58" cy="351.74" r="2.71"/><circle cx="955.41" cy="355.91" r="2.71"/><circle cx="956.25" cy="349.29" r="2.71"/><circle cx="957.08" cy="350.77" r="2.71"/><circle cx="957.92" cy="345.07" r="2.71"/><circle cx="958.75" cy="346.77" r="2.71"/><circle cx="959.58" cy="346.49" r="2.71"/><circle cx="960.42" cy="345.28" r="2.71"/><circle cx="961.25" cy="345.5" r="2.71"/><circle cx="962.09" cy="347.15" r="2.71"/><circle cx="962.92" cy="345.5" r="2.71"/><circle cx="963.76" cy="348.19" r="2.71"/><circle cx="964.59" cy="347.01" r="2.71"/><circle cx="965.43" cy="348.6" r="2.71"/><circle cx="966.26" cy="350.43" r="2.71"/><circle cx="967.1" cy="348.16" r="2.71"/><circle cx="967.93" cy="347.31" r="2.71"/><circle cx="968.76" cy="349.48" r="2.71"/><circle cx="969.6" cy="350.76" r="2.71"/><circle cx="970.43" cy="349.75" r="2.71"/><circle cx="971.27" cy="351.64" r="2.71"/><circle cx="972.1" cy="345.71" r="2.71"/><circle cx="972.94" cy="350.39" r="2.71"/><circle cx="973.77" cy="345.58" r="2.71"/><circle cx="974.61" cy="349.34" r="2.71"/><circle cx="975.44" cy="350.91" r="2.71"/><circle cx="976.28" cy="346.72" r="2.71"/><circle cx="977.11" cy="345.07" r="2.71"/><circle cx="977.95" cy="347.93" r="2.71"/><circle cx="978.78" cy="347.6" r="2.71"/><circle cx="979.61" cy="347.48" r="2.71"/><circle cx="980.45" cy="348.8" r="2.71"/><circle cx="981.28" cy="346.87" r="2.71"/><circle cx="982.12" cy="347.94" r="2.71"/><circle cx="982.95" cy="346.34" r="2.71"/><circle cx="983.79" cy="349.78" r="2.71"/><circle cx="984.62" cy="351.43" r="2.71"/><circle cx="985.46" cy="355.91" r="2.71"/><circle cx="986.29" cy="348.81" r="2.71"/><circle cx="987.13" cy="349.02" r="2.71"/><circle cx="987.96" cy="349.14" r="2.71"/><circle cx="988.79" cy="350.47" r="2.71"/><circle cx="989.63" cy="347.63" r="2.71"/><circle cx="990.46" cy="350.73" r="2.71"/><circle cx="991.3" cy="350.13" r="2.71"/><circle cx="992.13" cy="350.56" r="2.71"/><circle cx="992.97" cy="349.66" r="2.71"/><circle cx="993.8" cy="350.01" r="2.71"/><circle cx="994.64" cy="346.34" r="2.71"/><circle cx="995.47" cy="348.48" r="2.71"/><circle cx="996.31" cy="352.02" r="2.71"/><circle cx="997.14" cy="349.99" r="2.71"/><circle cx="997.98" cy="354.42" r="2.71"/><circle cx="998.81" cy="347.95" r="2.71"/><circle cx="999.64" cy="347.21" r="2.71"/><circle cx="1000.48" cy="350.41" r="2.71"/><circle cx="1001.31" cy="346.98" r="2.71"/><circle cx="1002.15" cy="350.2" r="2.71"/><circle cx="1002.98" cy="349.25" r="2.71"/><circle cx="1003.82" cy="347.15" r="2.71"/><circle cx="1004.65" cy="357.18" r="2.71"/><circle cx="1005.49" cy="352.33" r="2.71"/><circle cx="1006.32" cy="349.11" r="2.71"/><circle cx="1007.16" cy="349.41" r="2.71"/><circle cx="1007.99" cy="346.13" r="2.71"/><circle cx="1008.82" cy="348.15" r="2.71"/><circle cx="1009.66" cy="350.85" r="2.71"/><circle cx="1010.49" cy="352.39" r="2.71"/><circle cx="1011.33" cy="353.78" r="2.71"/><circle cx="1012.16" cy="349.8" r="2.71"/><circle cx="1013" cy="351.06" r="2.71"/><circle cx="1013.83" cy="350.9" r="2.71"/><circle cx="1014.67" cy="346.9" r="2.71"/><circle cx="1015.5" cy="348.41" r="2.71"/><circle cx="1016.34" cy="348.11" r="2.71"/><circle cx="1017.17" cy="346.13" r="2.71"/><circle cx="1018.01" cy="349.78" r="2.71"/><circle cx="1018.84" cy="350.94" r="2.71"/><circle cx="1019.67" cy="350.88" r="2.71"/><circle cx="1020.51" cy="351.7" r="2.71"/><circle cx="1021.34" cy="350.72" r="2.71"/><circle cx="1022.18" cy="352.14" r="2.71"/><circle cx="1023.01" cy="350.95" r="2.71"/><circle cx="1023.85" cy="356.54" r="2.71"/><circle cx="1024.68" cy="350.72" r="2.71"/><circle cx="1025.52" cy="349.26" r="2.71"/><circle cx="1026.35" cy="347.76" r="2.71"/><circle cx="1027.19" cy="347.28" r="2.71"/><circle cx="1028.02" cy="349.52" r="2.71"/><circle cx="1028.85" cy="349.22" r="2.71"/><circle cx="1029.69" cy="346.34" r="2.71"/><circle cx="1030.52" cy="347.6" r="2.71"/><circle cx="1031.36" cy="346.57" r="2.71"/><circle cx="1032.19" cy="350.04" r="2.71"/><circle cx="1033.03" cy="347.6" r="2.71"/><circle cx="1033.86" cy="349.24" r="2.71"/><circle cx="1034.7" cy="348.13" r="2.71"/><circle cx="960.42" cy="353.14" r="2.71"/><circle cx="961.25" cy="355.27" r="2.71"/><circle cx="962.09" cy="357.39" r="2.71"/><circle cx="962.92" cy="359.52" r="2.71"/><circle cx="963.76" cy="358.46" r="2.71"/><circle cx="964.59" cy="361.64" r="2.71"/><circle cx="965.43" cy="367.59" r="2.71"/><circle cx="966.26" cy="363.77" r="2.71"/><circle cx="967.1" cy="359.52" r="2.71"/><circle cx="967.93" cy="358.46" r="2.71"/></g>
<polyline class="sm" points="902.83,501.06 903.67,500.39 904.5,499.04 905.34,496.84 906.17,493.37 907.01,487.89 907.84,479.61 908.68,468.03 909.51,453.31 910.34,436.4 911.18,418.84 912.01,402.36 912.85,388.37 913.68,377.68 914.52,370.37 915.35,365.92 916.19,363.51 917.02,362.26 917.86,361.51 918.69,360.86 919.52,360.17 920.36,359.5 921.19,358.92 922.03,358.49 922.86,358.18 923.7,357.9 924.53,357.54 925.37,357.06 926.2,356.49 927.04,355.88 927.87,355.35 928.71,354.97 929.54,354.8 930.37,354.83 931.21,355.06 932.04,355.47 932.88,355.99 933.71,356.53 934.55,357 935.38,357.3 936.22,357.4 937.05,357.36 937.89,357.29 938.72,357.3 939.55,357.45 940.39,357.7 941.22,357.96 942.06,358.13 942.89,358.16 943.73,358.11 944.56,358.07 945.4,358.15 946.23,358.33 947.07,358.5 947.9,358.47 948.74,358.1 949.57,357.34 950.4,356.28 951.24,355.1 952.07,353.97 952.91,353 953.74,352.19 954.58,351.48 955.41,350.77 956.25,350.01 957.08,349.21 957.92,348.42 958.75,347.72 959.58,347.19 960.42,346.87 961.25,346.77 962.09,346.84 962.92,347.06 963.76,347.37 964.59,347.72 965.43,348.07 966.26,348.39 967.1,348.67 967.93,348.9 968.76,349.05 969.6,349.13 970.43,349.12 971.27,349.02 972.1,348.86 972.94,348.66 973.77,348.44 974.61,348.23 975.44,348.03 976.28,347.86 977.11,347.73 977.95,347.66 978.78,347.67 979.61,347.75 980.45,347.93 981.28,348.21 982.12,348.57 982.95,349 983.79,349.43 984.62,349.78 985.46,350.01 986.29,350.09 987.13,350.05 987.96,349.95 988.79,349.85 989.63,349.77 990.46,349.72 991.3,349.68 992.13,349.64 992.97,349.61 993.8,349.61 994.64,349.65 995.47,349.72 996.31,349.8 997.14,349.83 997.98,349.79 998.81,349.69 999.64,349.59 1000.48,349.54 1001.31,349.59 1002.15,349.74 1002.98,349.95 1003.82,350.15 1004.65,350.26 1005.49,350.26 1006.32,350.17 1007.16,350.07 1007.99,350.04 1008.82,350.11 1009.66,350.24 1010.49,350.37 1011.33,350.41 1012.16,350.31 1013,350.06 1013.83,349.73 1014.67,349.41 1015.5,349.2 1016.34,349.15 1017.17,349.28 1018.01,349.58 1018.84,349.99 1019.67,350.43 1020.51,350.83 1021.34,351.12 1022.18,351.27 1023.01,351.23 1023.85,351 1024.68,350.6 1025.52,350.09 1026.35,349.56 1027.19,349.07 1028.02,348.68 1028.85,348.41 1029.69,348.29 1030.52,348.32 1031.36,348.55 1032.19,348.99 1033.03,349.68 1033.86,350.63 1034.7,351.85 960.42,353.27 961.25,354.84 962.09,356.42 962.92,357.91 963.76,359.17 964.59,360.13 965.43,360.75 966.26,361.07 967.1,361.18 967.93,361.19"/>
</g>
<rect class="fr" x="896.24" y="337.06" width="145.05" height="179.24"/>
<line class="tk" x1="902" y1="516.3" x2="902" y2="520.09"/>
<text class="xl" x="902" y="532.65">0</text>
<line class="tk" x1="943.73" y1="516.3" x2="943.73" y2="520.09"/>
<text class="xl" x="943.73" y="532.65">50</text>
<line class="tk" x1="985.46" y1="516.3" x2="985.46" y2="520.09"/>
<text class="xl" x="985.46" y="532.65">100</text>
<line class="tk" x1="1027.19" y1="516.3" x2="1027.19" y2="520.09"/>
<text class="xl" x="1027.19" y="532.65">150</text>
<line class="tk" x1="892.45" y1="508.25" x2="896.24" y2="508.25"/>
<text class="yl" x="888.65" y="512.6">0.0</text>
<line class="tk" x1="892.45" y1="465.75" x2="896.24" y2="465.75"/>
<text class="yl" x="888.65" y="470.1">0.2</text>
<line class="tk" x1="892.45" y1="423.26" x2="896.24" y2="423.26"/>
<text class="yl" x="888.65" y="427.61">0.4</text>
<line class="tk" x1="892.45" y1="380.77" x2="896.24" y2="380.77"/>
<text class="yl" x="888.65" y="385.12">0.6</text>
<line class="tk" x1="892.45" y1="338.27" x2="896.24" y2="338.27"/>
<text class="yl" x="888.65" y="342.62">0.8</text>
<text class="tt" x="968.76" y="329.76">metrics/mAP50-95(B)</text>
</g>
<g class="lg">
<rect class="lgb" x="394.3" y="115.5" width="87.1" height="38" rx="2.38"/>
<line class="ln" x1="399.07" y1="124.76" x2="422.91" y2="124.76"/>
<g class="mk"><circle cx="410.99" cy="124.76" r="2.71"/></g>
<line class="sm" x1="399.07" y1="142.3" x2="422.91" y2="142.3"/>
<text class="lt" x="432.45" y="128.7">results</text>
<text class="lt" x="432.45" y="145.84">smooth</text>
</g>
</svg>
</body>
</html>
